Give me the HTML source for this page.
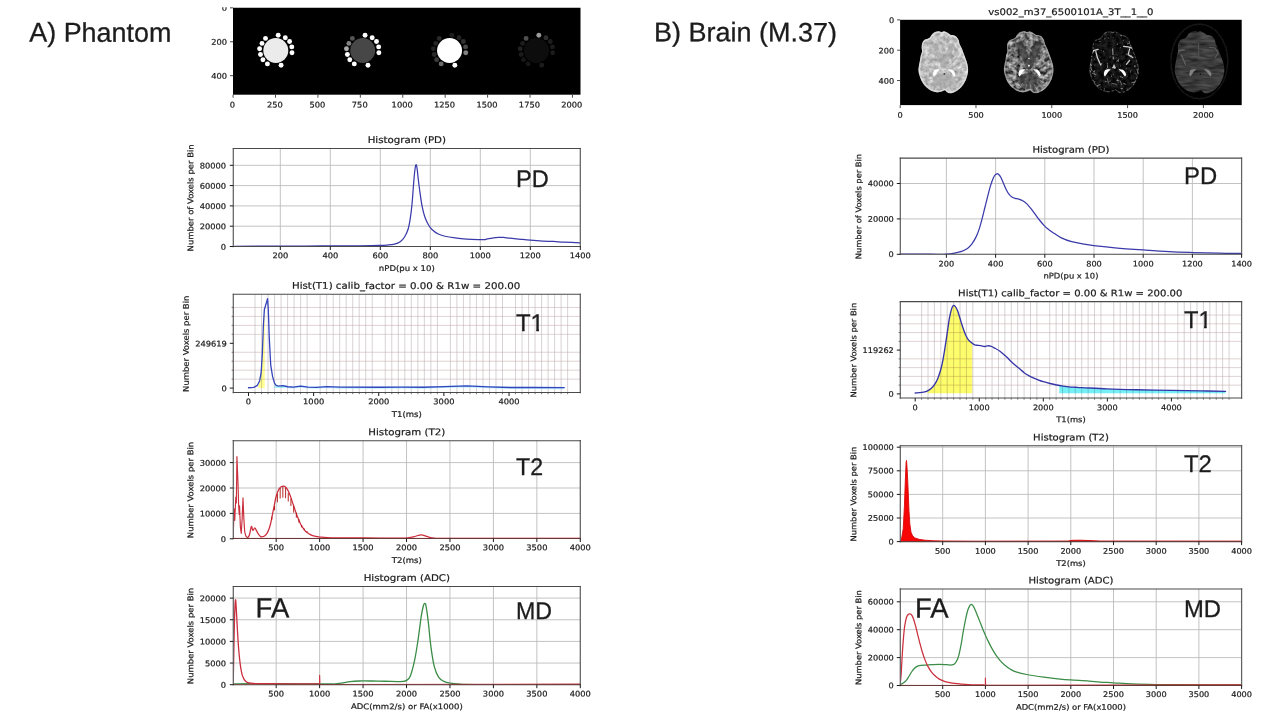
<!DOCTYPE html>
<html lang="en">
<head>
<meta charset="utf-8">
<title>Histograms: Phantom and Brain</title>
<style>
html,body{margin:0;padding:0;background:#fff;}
body{width:1280px;height:720px;overflow:hidden;position:relative;}
svg{position:absolute;left:0;top:0;display:block;}
svg text{font-family:"DejaVu Sans","Liberation Sans",sans-serif;fill:#1c1c1c;stroke:#1c1c1c;stroke-width:0.22px;text-rendering:geometricPrecision;}
svg text.big{font-family:"Liberation Sans",Arial,Helvetica,sans-serif;fill:#1c1c1c;stroke:#1c1c1c;stroke-width:0.3px;}
</style>
</head>
<body>
<svg width="1280" height="720" viewBox="0 0 1280 720">
<rect x="0" y="0" width="1280" height="720" fill="#ffffff"/>
<defs>
<filter id="soft" x="-5%" y="-5%" width="110%" height="110%"><feGaussianBlur stdDeviation="0.45"/></filter>
<filter id="soft2" x="-5%" y="-5%" width="110%" height="110%"><feGaussianBlur stdDeviation="0.7"/></filter>
</defs>
<rect x="233" y="7.75" width="347.5" height="86.95" fill="#000"/>
<g filter="url(#soft)">
<circle cx="275.8" cy="50.5" r="12.5" fill="#ebebeb"/>
<circle cx="278.2" cy="35.3" r="2.45" fill="#ffffff"/>
<circle cx="285.3" cy="37.8" r="2.45" fill="#ffffff"/>
<circle cx="289.6" cy="41.5" r="2.45" fill="#ffffff"/>
<circle cx="291.8" cy="46.9" r="2.45" fill="#ffffff"/>
<circle cx="292" cy="52.7" r="2.45" fill="#ffffff"/>
<circle cx="281.1" cy="65.3" r="2.45" fill="#ffffff"/>
<circle cx="267.4" cy="63.9" r="2.45" fill="#ffffff"/>
<circle cx="262.9" cy="59.8" r="2.45" fill="#ffffff"/>
<circle cx="260.5" cy="54.5" r="2.45" fill="#ffffff"/>
<circle cx="259.6" cy="48.8" r="2.45" fill="#ffffff"/>
<circle cx="262" cy="43.4" r="2.45" fill="#ffffff"/>
<circle cx="265.5" cy="38.4" r="2.45" fill="#ffffff"/>
<circle cx="362.68" cy="50.5" r="12.5" fill="#464646"/>
<circle cx="365.07" cy="35.3" r="2.45" fill="#ffffff"/>
<circle cx="372.18" cy="37.8" r="2.45" fill="#ffffff"/>
<circle cx="376.48" cy="41.5" r="2.45" fill="#ffffff"/>
<circle cx="378.68" cy="46.9" r="2.45" fill="#ffffff"/>
<circle cx="378.88" cy="52.7" r="2.45" fill="#ffffff"/>
<circle cx="367.98" cy="65.3" r="2.45" fill="#ffffff"/>
<circle cx="354.28" cy="63.9" r="2.45" fill="#ffffff"/>
<circle cx="349.78" cy="59.8" r="2.45" fill="#ffffff"/>
<circle cx="347.38" cy="54.5" r="2.45" fill="#ffffff"/>
<circle cx="346.48" cy="48.8" r="2.45" fill="#ababab"/>
<circle cx="348.88" cy="43.4" r="2.45" fill="#808080"/>
<circle cx="352.38" cy="38.4" r="2.45" fill="#555555"/>
<circle cx="449.55" cy="50.5" r="12.5" fill="#ffffff"/>
<circle cx="451.95" cy="35.3" r="2.45" fill="#1e1e1e"/>
<circle cx="459.05" cy="37.8" r="2.45" fill="#242424"/>
<circle cx="463.35" cy="41.5" r="2.45" fill="#303030"/>
<circle cx="465.55" cy="46.9" r="2.45" fill="#484848"/>
<circle cx="465.75" cy="52.7" r="2.45" fill="#808080"/>
<circle cx="454.85" cy="65.3" r="2.45" fill="#ffffff"/>
<circle cx="441.15" cy="63.9" r="2.45" fill="#6a6a6a"/>
<circle cx="436.65" cy="59.8" r="2.45" fill="#3a3a3a"/>
<circle cx="434.25" cy="54.5" r="2.45" fill="#2a2a2a"/>
<circle cx="433.35" cy="48.8" r="2.45" fill="#222222"/>
<circle cx="435.75" cy="43.4" r="2.45" fill="#262626"/>
<circle cx="439.25" cy="38.4" r="2.45" fill="#2a2a2a"/>
<circle cx="536.42" cy="50.5" r="12.5" fill="#0f0f0f"/>
<circle cx="538.82" cy="35.3" r="2.45" fill="#9a9a9a"/>
<circle cx="545.92" cy="37.8" r="2.45" fill="#2e2e2e"/>
<circle cx="550.22" cy="41.5" r="2.45" fill="#1e1e1e"/>
<circle cx="552.42" cy="46.9" r="2.45" fill="#1a1a1a"/>
<circle cx="552.62" cy="52.7" r="2.45" fill="#1a1a1a"/>
<circle cx="541.72" cy="65.3" r="2.45" fill="#1c1c1c"/>
<circle cx="528.02" cy="63.9" r="2.45" fill="#161616"/>
<circle cx="523.52" cy="59.8" r="2.45" fill="#181818"/>
<circle cx="521.12" cy="54.5" r="2.45" fill="#1c1c1c"/>
<circle cx="520.22" cy="48.8" r="2.45" fill="#202020"/>
<circle cx="522.62" cy="43.4" r="2.45" fill="#1e1e1e"/>
<circle cx="526.12" cy="38.4" r="2.45" fill="#505050"/>
</g>
<path d="M233.08 94.7v3M275.5 94.7v3M317.92 94.7v3M360.34 94.7v3M402.76 94.7v3M445.18 94.7v3M487.6 94.7v3M530.02 94.7v3M572.44 94.7v3M233 7.83h-3M233 41.77h-3M233 75.71h-3" stroke="#333" stroke-width="0.9" fill="none"/>
<clipPath id="cropL"><rect x="0" y="7.3" width="640" height="200"/></clipPath>
<text transform="translate(232.48 107.6) rotate(0.03) scale(1.0559 1)" font-size="7.87" text-anchor="middle">0</text>
<text transform="translate(274.9 107.6) rotate(0.03) scale(1.0559 1)" font-size="7.87" text-anchor="middle">250</text>
<text transform="translate(317.32 107.6) rotate(0.03) scale(1.0559 1)" font-size="7.87" text-anchor="middle">500</text>
<text transform="translate(359.74 107.6) rotate(0.03) scale(1.0559 1)" font-size="7.87" text-anchor="middle">750</text>
<text transform="translate(402.16 107.6) rotate(0.03) scale(1.0559 1)" font-size="7.87" text-anchor="middle">1000</text>
<text transform="translate(444.58 107.6) rotate(0.03) scale(1.0559 1)" font-size="7.87" text-anchor="middle">1250</text>
<text transform="translate(487 107.6) rotate(0.03) scale(1.0559 1)" font-size="7.87" text-anchor="middle">1500</text>
<text transform="translate(529.42 107.6) rotate(0.03) scale(1.0559 1)" font-size="7.87" text-anchor="middle">1750</text>
<text transform="translate(571.84 107.6) rotate(0.03) scale(1.0559 1)" font-size="7.87" text-anchor="middle">2000</text>
<g clip-path="url(#cropL)">
<text transform="translate(227 10.83) rotate(0.03) scale(1.0559 1)" font-size="7.87" text-anchor="end">0</text>
<text transform="translate(227 44.77) rotate(0.03) scale(1.0559 1)" font-size="7.87" text-anchor="end">200</text>
<text transform="translate(227 78.71) rotate(0.03) scale(1.0559 1)" font-size="7.87" text-anchor="end">400</text>
</g>
<rect x="900.1" y="19.8" width="341.6" height="85.3" fill="#000"/>
<defs>
<filter id="bt1" x="-10%" y="-10%" width="120%" height="120%" color-interpolation-filters="sRGB">
<feTurbulence type="fractalNoise" baseFrequency="0.24" numOctaves="2" seed="4" result="n"/>
<feColorMatrix in="n" type="matrix" values="0.5 0 0 0 0.5  0.5 0 0 0 0.5  0.5 0 0 0 0.5  0 0 0 0 1" result="g"/>
<feComposite in="g" in2="SourceGraphic" operator="in" result="c"/>
<feGaussianBlur in="c" stdDeviation="0.35"/>
</filter>
<filter id="bt2" x="-10%" y="-10%" width="120%" height="120%" color-interpolation-filters="sRGB">
<feTurbulence type="fractalNoise" baseFrequency="0.24" numOctaves="2" seed="11" result="n"/>
<feColorMatrix in="n" type="matrix" values="1.2 0 0 0 -0.16  1.2 0 0 0 -0.16  1.2 0 0 0 -0.16  0 0 0 0 1" result="g"/>
<feComposite in="g" in2="SourceGraphic" operator="in" result="c"/>
<feGaussianBlur in="c" stdDeviation="0.35"/>
</filter>
<filter id="bt3" x="-10%" y="-10%" width="120%" height="120%" color-interpolation-filters="sRGB">
<feTurbulence type="fractalNoise" baseFrequency="0.25" numOctaves="2" seed="23" result="n"/>
<feColorMatrix in="n" type="matrix" values="0.5 0 0 0 -0.13  0.5 0 0 0 -0.13  0.5 0 0 0 -0.13  0 0 0 0 1" result="g"/>
<feComposite in="g" in2="SourceGraphic" operator="in" result="c"/>
<feGaussianBlur in="c" stdDeviation="0.35"/>
</filter>
<filter id="bt3s" x="-10%" y="-10%" width="120%" height="120%" color-interpolation-filters="sRGB">
<feTurbulence type="fractalNoise" baseFrequency="0.3" numOctaves="3" seed="23" result="n"/>
<feColorMatrix in="n" type="matrix" values="7.0 0 0 0 -4.7  7.0 0 0 0 -4.7  7.0 0 0 0 -4.7  0 0 0 0 1" result="g"/>
<feComposite in="g" in2="SourceGraphic" operator="in" result="c"/>
<feGaussianBlur in="c" stdDeviation="0.45"/>
</filter>
<filter id="bt4" x="-10%" y="-10%" width="120%" height="120%" color-interpolation-filters="sRGB">
<feTurbulence type="fractalNoise" baseFrequency="0.07 0.30" numOctaves="2" seed="31" result="n"/>
<feColorMatrix in="n" type="matrix" values="0.34 0 0 0 0.06  0.34 0 0 0 0.06  0.34 0 0 0 0.06  0 0 0 0 1" result="g"/>
<feComposite in="g" in2="SourceGraphic" operator="in" result="c"/>
<feGaussianBlur in="c" stdDeviation="0.5"/>
</filter>
<filter id="soft3" x="-20%" y="-20%" width="140%" height="140%"><feGaussianBlur stdDeviation="1.6"/></filter>
</defs>
<clipPath id="bc1"><path d="M941.67 32.02 C942.2 31.92 943.79 31.23 944.84 31.39 C945.9 31.55 947.04 32.39 948.01 32.97 C948.98 33.56 949.73 34.51 950.65 34.87 C951.56 35.24 952.53 34.89 953.5 35.19 C954.47 35.49 955.61 35.9 956.46 36.67 C957.3 37.44 958.04 38.61 958.57 39.84 C959.1 41.07 959.1 42.65 959.62 44.06 C960.15 45.47 961.12 46.88 961.73 48.28 C962.35 49.69 962.79 51.1 963.32 52.51 C963.85 53.91 964.37 55.32 964.9 56.73 C965.43 58.14 965.99 59.37 966.49 60.95 C966.98 62.54 967.59 64.47 967.86 66.23 C968.12 67.99 968.21 69.75 968.07 71.51 C967.93 73.27 967.54 75.03 967.01 76.79 C966.49 78.55 965.78 80.4 964.9 82.07 C964.02 83.74 962.97 85.41 961.73 86.82 C960.5 88.23 958.92 89.55 957.51 90.52 C956.1 91.48 954.7 92.19 953.29 92.63 C951.88 93.07 950.21 93.3 949.06 93.16 C947.92 93.01 947.13 92.26 946.43 91.78 C945.72 91.31 945.63 90.34 944.84 90.3 C944.05 90.27 942.91 91.22 941.67 91.57 C940.44 91.92 938.86 92.42 937.45 92.42 C936.04 92.42 934.64 92.06 933.23 91.57 C931.82 91.08 930.41 90.43 929 89.46 C927.6 88.49 926.01 87.17 924.78 85.76 C923.55 84.36 922.49 82.69 921.61 81.01 C920.73 79.34 920.03 77.49 919.5 75.73 C918.97 73.97 918.53 72.22 918.45 70.46 C918.36 68.7 918.71 66.94 918.97 65.18 C919.24 63.42 919.75 61.48 920.03 59.9 C920.31 58.31 920.33 57.08 920.66 55.67 C921 54.27 921.88 52.86 922.04 51.45 C922.19 50.04 921.58 48.64 921.61 47.23 C921.65 45.82 921.81 44.2 922.25 43 C922.69 41.81 923.39 40.75 924.25 40.05 C925.12 39.34 926.45 39.26 927.42 38.78 C928.39 38.31 929.32 37.9 930.06 37.2 C930.8 36.49 931.06 35.42 931.86 34.56 C932.65 33.7 933.7 32.59 934.81 32.02 C935.92 31.46 937.36 31.18 938.51 31.18 C939.65 31.18 941.15 31.88 941.67 32.02Z"/></clipPath>
<path d="M941.67 32.02 C942.2 31.92 943.79 31.23 944.84 31.39 C945.9 31.55 947.04 32.39 948.01 32.97 C948.98 33.56 949.73 34.51 950.65 34.87 C951.56 35.24 952.53 34.89 953.5 35.19 C954.47 35.49 955.61 35.9 956.46 36.67 C957.3 37.44 958.04 38.61 958.57 39.84 C959.1 41.07 959.1 42.65 959.62 44.06 C960.15 45.47 961.12 46.88 961.73 48.28 C962.35 49.69 962.79 51.1 963.32 52.51 C963.85 53.91 964.37 55.32 964.9 56.73 C965.43 58.14 965.99 59.37 966.49 60.95 C966.98 62.54 967.59 64.47 967.86 66.23 C968.12 67.99 968.21 69.75 968.07 71.51 C967.93 73.27 967.54 75.03 967.01 76.79 C966.49 78.55 965.78 80.4 964.9 82.07 C964.02 83.74 962.97 85.41 961.73 86.82 C960.5 88.23 958.92 89.55 957.51 90.52 C956.1 91.48 954.7 92.19 953.29 92.63 C951.88 93.07 950.21 93.3 949.06 93.16 C947.92 93.01 947.13 92.26 946.43 91.78 C945.72 91.31 945.63 90.34 944.84 90.3 C944.05 90.27 942.91 91.22 941.67 91.57 C940.44 91.92 938.86 92.42 937.45 92.42 C936.04 92.42 934.64 92.06 933.23 91.57 C931.82 91.08 930.41 90.43 929 89.46 C927.6 88.49 926.01 87.17 924.78 85.76 C923.55 84.36 922.49 82.69 921.61 81.01 C920.73 79.34 920.03 77.49 919.5 75.73 C918.97 73.97 918.53 72.22 918.45 70.46 C918.36 68.7 918.71 66.94 918.97 65.18 C919.24 63.42 919.75 61.48 920.03 59.9 C920.31 58.31 920.33 57.08 920.66 55.67 C921 54.27 921.88 52.86 922.04 51.45 C922.19 50.04 921.58 48.64 921.61 47.23 C921.65 45.82 921.81 44.2 922.25 43 C922.69 41.81 923.39 40.75 924.25 40.05 C925.12 39.34 926.45 39.26 927.42 38.78 C928.39 38.31 929.32 37.9 930.06 37.2 C930.8 36.49 931.06 35.42 931.86 34.56 C932.65 33.7 933.7 32.59 934.81 32.02 C935.92 31.46 937.36 31.18 938.51 31.18 C939.65 31.18 941.15 31.88 941.67 32.02Z" fill="#bbb" filter="url(#bt1)"/>
<g clip-path="url(#bc1)">
<g filter="url(#soft2)">
<path d="M934.56 44 L943.56 66 L952.56 44" fill="none" stroke="#9c9c9c" stroke-width="5" opacity="0.55" stroke-linejoin="round"/>
<ellipse cx="943.56" cy="80.5" rx="10.5" ry="7.5" fill="#a2a2a2" opacity="0.6"/>
<path d="M955.92 77.21L971.14 81.17M954.07 80.11L967.02 87.64M951.56 82.2L961.41 92.28M948.43 83.64L954.42 95.51M944.91 84.34L946.59 97.07M941.3 84.24L938.52 96.85M937.45 83.18L929.94 94.48M934.2 81.22L922.69 90.12M932.08 78.88L917.95 84.89M930.84 76.16L915.19 78.82M931.06 71.13L915.68 67.61M932.78 68.18L919.51 61.03M935.55 65.8L925.7 55.72M955.61 70.1L970.44 65.31M953.51 67.32L965.77 59.09M950.44 65.18L958.92 54.33" stroke="#8e8e8e" stroke-width="0.7" opacity="0.55" fill="none"/>
<path d="M941.73 32.93 C942.24 32.83 943.78 32.16 944.8 32.32 C945.83 32.47 946.94 33.29 947.88 33.85 C948.81 34.42 949.55 35.34 950.44 35.7 C951.32 36.06 952.26 35.71 953.2 36 C954.14 36.29 955.25 36.69 956.07 37.44 C956.89 38.19 957.6 39.32 958.12 40.51 C958.63 41.71 958.63 43.24 959.14 44.61 C959.65 45.97 960.59 47.34 961.19 48.7 C961.79 50.07 962.21 51.44 962.73 52.8 C963.24 54.17 963.75 55.53 964.26 56.9 C964.77 58.26 965.32 59.46 965.8 60.99 C966.28 62.53 966.87 64.41 967.13 66.11 C967.39 67.82 967.47 69.53 967.33 71.23 C967.2 72.94 966.82 74.65 966.31 76.36 C965.8 78.06 965.12 79.85 964.26 81.48 C963.41 83.1 962.38 84.72 961.19 86.08 C959.99 87.45 958.46 88.73 957.09 89.67 C955.73 90.61 954.36 91.29 953 91.72 C951.63 92.14 950.01 92.37 948.9 92.23 C947.79 92.09 947.02 91.36 946.34 90.9 C945.66 90.44 945.57 89.5 944.8 89.46 C944.03 89.43 942.93 90.35 941.73 90.69 C940.54 91.03 939 91.51 937.63 91.51 C936.27 91.51 934.9 91.17 933.54 90.69 C932.17 90.22 930.81 89.58 929.44 88.65 C928.08 87.71 926.54 86.43 925.34 85.06 C924.15 83.7 923.13 82.07 922.27 80.45 C921.42 78.83 920.74 77.04 920.22 75.33 C919.71 73.62 919.29 71.92 919.2 70.21 C919.11 68.5 919.46 66.8 919.71 65.09 C919.97 63.38 920.46 61.51 920.74 59.97 C921.01 58.43 921.03 57.24 921.35 55.87 C921.67 54.51 922.53 53.14 922.68 51.78 C922.84 50.41 922.24 49.05 922.27 47.68 C922.31 46.31 922.46 44.74 922.89 43.58 C923.31 42.42 924 41.4 924.83 40.72 C925.67 40.03 926.97 39.95 927.9 39.49 C928.84 39.03 929.75 38.63 930.47 37.95 C931.18 37.27 931.44 36.23 932.21 35.39 C932.97 34.55 934 33.48 935.07 32.93 C936.15 32.39 937.55 32.11 938.66 32.11 C939.77 32.11 941.22 32.8 941.73 32.93Z" fill="none" stroke="#e6e6e6" stroke-width="1.6" opacity="0.7"/>
</g></g>
<g filter="url(#soft)" opacity="1.0" fill="#ffffff">
<path d="M933.36 72 C933.54 71.65 933.84 70.37 934.46 69.9 C935.07 69.43 936.17 69.28 937.06 69.2 C937.94 69.12 939.66 69.02 939.76 69.4 C939.86 69.78 938.37 70.62 937.66 71.5 C936.94 72.38 936.04 73.9 935.46 74.7 C934.87 75.5 934.54 76.3 934.16 76.3 C933.77 76.3 933.29 75.42 933.16 74.7 C933.02 73.98 933.32 72.45 933.36 72Z"/>
<path d="M947.66 69.2 C948.27 69.27 950.31 69.22 951.36 69.6 C952.41 69.98 953.31 70.65 953.96 71.5 C954.61 72.35 955.22 73.9 955.26 74.7 C955.29 75.5 954.64 76.38 954.16 76.3 C953.67 76.22 953.01 75 952.36 74.2 C951.71 73.4 951.04 72.33 950.26 71.5 C949.47 70.67 948.09 69.58 947.66 69.2Z"/>
</g>
<circle cx="944.36" cy="73.9" r="0.9" fill="#3a3a3a" filter="url(#soft)"/>
<clipPath id="bc2"><path d="M1027.07 32.02 C1027.6 31.92 1029.19 31.23 1030.24 31.39 C1031.3 31.55 1032.44 32.39 1033.41 32.97 C1034.38 33.56 1035.13 34.51 1036.05 34.87 C1036.96 35.24 1037.93 34.89 1038.9 35.19 C1039.87 35.49 1041.01 35.9 1041.86 36.67 C1042.7 37.44 1043.44 38.61 1043.97 39.84 C1044.5 41.07 1044.5 42.65 1045.02 44.06 C1045.55 45.47 1046.52 46.88 1047.13 48.28 C1047.75 49.69 1048.19 51.1 1048.72 52.51 C1049.25 53.91 1049.77 55.32 1050.3 56.73 C1050.83 58.14 1051.39 59.37 1051.89 60.95 C1052.38 62.54 1052.99 64.47 1053.26 66.23 C1053.52 67.99 1053.61 69.75 1053.47 71.51 C1053.33 73.27 1052.94 75.03 1052.41 76.79 C1051.89 78.55 1051.18 80.4 1050.3 82.07 C1049.42 83.74 1048.37 85.41 1047.13 86.82 C1045.9 88.23 1044.32 89.55 1042.91 90.52 C1041.5 91.48 1040.1 92.19 1038.69 92.63 C1037.28 93.07 1035.61 93.3 1034.46 93.16 C1033.32 93.01 1032.53 92.26 1031.83 91.78 C1031.12 91.31 1031.03 90.34 1030.24 90.3 C1029.45 90.27 1028.31 91.22 1027.07 91.57 C1025.84 91.92 1024.26 92.42 1022.85 92.42 C1021.44 92.42 1020.04 92.06 1018.63 91.57 C1017.22 91.08 1015.81 90.43 1014.4 89.46 C1013 88.49 1011.41 87.17 1010.18 85.76 C1008.95 84.36 1007.89 82.69 1007.01 81.01 C1006.13 79.34 1005.43 77.49 1004.9 75.73 C1004.37 73.97 1003.93 72.22 1003.85 70.46 C1003.76 68.7 1004.11 66.94 1004.37 65.18 C1004.64 63.42 1005.15 61.48 1005.43 59.9 C1005.71 58.31 1005.73 57.08 1006.06 55.67 C1006.4 54.27 1007.28 52.86 1007.44 51.45 C1007.59 50.04 1006.98 48.64 1007.01 47.23 C1007.05 45.82 1007.21 44.2 1007.65 43 C1008.09 41.81 1008.79 40.75 1009.65 40.05 C1010.52 39.34 1011.85 39.26 1012.82 38.78 C1013.79 38.31 1014.72 37.9 1015.46 37.2 C1016.2 36.49 1016.46 35.42 1017.26 34.56 C1018.05 33.7 1019.1 32.59 1020.21 32.02 C1021.32 31.46 1022.76 31.18 1023.91 31.18 C1025.05 31.18 1026.55 31.88 1027.07 32.02Z"/></clipPath>
<path d="M1027.07 32.02 C1027.6 31.92 1029.19 31.23 1030.24 31.39 C1031.3 31.55 1032.44 32.39 1033.41 32.97 C1034.38 33.56 1035.13 34.51 1036.05 34.87 C1036.96 35.24 1037.93 34.89 1038.9 35.19 C1039.87 35.49 1041.01 35.9 1041.86 36.67 C1042.7 37.44 1043.44 38.61 1043.97 39.84 C1044.5 41.07 1044.5 42.65 1045.02 44.06 C1045.55 45.47 1046.52 46.88 1047.13 48.28 C1047.75 49.69 1048.19 51.1 1048.72 52.51 C1049.25 53.91 1049.77 55.32 1050.3 56.73 C1050.83 58.14 1051.39 59.37 1051.89 60.95 C1052.38 62.54 1052.99 64.47 1053.26 66.23 C1053.52 67.99 1053.61 69.75 1053.47 71.51 C1053.33 73.27 1052.94 75.03 1052.41 76.79 C1051.89 78.55 1051.18 80.4 1050.3 82.07 C1049.42 83.74 1048.37 85.41 1047.13 86.82 C1045.9 88.23 1044.32 89.55 1042.91 90.52 C1041.5 91.48 1040.1 92.19 1038.69 92.63 C1037.28 93.07 1035.61 93.3 1034.46 93.16 C1033.32 93.01 1032.53 92.26 1031.83 91.78 C1031.12 91.31 1031.03 90.34 1030.24 90.3 C1029.45 90.27 1028.31 91.22 1027.07 91.57 C1025.84 91.92 1024.26 92.42 1022.85 92.42 C1021.44 92.42 1020.04 92.06 1018.63 91.57 C1017.22 91.08 1015.81 90.43 1014.4 89.46 C1013 88.49 1011.41 87.17 1010.18 85.76 C1008.95 84.36 1007.89 82.69 1007.01 81.01 C1006.13 79.34 1005.43 77.49 1004.9 75.73 C1004.37 73.97 1003.93 72.22 1003.85 70.46 C1003.76 68.7 1004.11 66.94 1004.37 65.18 C1004.64 63.42 1005.15 61.48 1005.43 59.9 C1005.71 58.31 1005.73 57.08 1006.06 55.67 C1006.4 54.27 1007.28 52.86 1007.44 51.45 C1007.59 50.04 1006.98 48.64 1007.01 47.23 C1007.05 45.82 1007.21 44.2 1007.65 43 C1008.09 41.81 1008.79 40.75 1009.65 40.05 C1010.52 39.34 1011.85 39.26 1012.82 38.78 C1013.79 38.31 1014.72 37.9 1015.46 37.2 C1016.2 36.49 1016.46 35.42 1017.26 34.56 C1018.05 33.7 1019.1 32.59 1020.21 32.02 C1021.32 31.46 1022.76 31.18 1023.91 31.18 C1025.05 31.18 1026.55 31.88 1027.07 32.02Z" fill="#777" filter="url(#bt2)"/>
<g clip-path="url(#bc2)">
<g filter="url(#soft2)">
<path d="M1018.96 42 L1028.96 66 L1038.96 42" fill="none" stroke="#3a3a3a" stroke-width="7" opacity="0.75" stroke-linejoin="round"/>
<ellipse cx="1028.96" cy="81" rx="11" ry="8" fill="#3c3c3c" opacity="0.7"/>
<path d="M1041.32 77.21L1056.54 81.17M1039.47 80.11L1052.42 87.64M1036.96 82.2L1046.81 92.28M1033.83 83.64L1039.82 95.51M1030.31 84.34L1031.99 97.07M1026.7 84.24L1023.92 96.85M1022.85 83.18L1015.34 94.48M1019.6 81.22L1008.09 90.12M1017.48 78.88L1003.35 84.89M1016.24 76.16L1000.59 78.82M1016.46 71.13L1001.08 67.61M1018.18 68.18L1004.91 61.03M1020.95 65.8L1011.1 55.72M1041.01 70.1L1055.84 65.31M1038.91 67.32L1051.17 59.09M1035.84 65.18L1044.32 54.33" stroke="#d0d0d0" stroke-width="0.7" opacity="0.55" fill="none"/>
<path d="M1027.12 32.78 C1027.64 32.68 1029.18 32.01 1030.21 32.16 C1031.24 32.32 1032.35 33.14 1033.3 33.71 C1034.24 34.27 1034.98 35.2 1035.87 35.56 C1036.76 35.92 1037.71 35.58 1038.65 35.87 C1039.59 36.16 1040.71 36.56 1041.53 37.31 C1042.36 38.07 1043.08 39.2 1043.59 40.4 C1044.11 41.6 1044.11 43.14 1044.62 44.52 C1045.14 45.89 1046.08 47.26 1046.68 48.63 C1047.28 50.01 1047.71 51.38 1048.22 52.75 C1048.74 54.12 1049.25 55.5 1049.77 56.87 C1050.28 58.24 1050.83 59.44 1051.31 60.99 C1051.79 62.53 1052.39 64.42 1052.65 66.13 C1052.91 67.85 1052.99 69.57 1052.86 71.28 C1052.72 73 1052.34 74.71 1051.83 76.43 C1051.31 78.14 1050.63 79.95 1049.77 81.58 C1048.91 83.21 1047.88 84.83 1046.68 86.21 C1045.48 87.58 1043.93 88.87 1042.56 89.81 C1041.19 90.75 1039.82 91.44 1038.44 91.87 C1037.07 92.3 1035.44 92.52 1034.33 92.38 C1033.21 92.25 1032.44 91.51 1031.75 91.05 C1031.07 90.58 1030.98 89.64 1030.21 89.6 C1029.44 89.57 1028.32 90.5 1027.12 90.84 C1025.92 91.18 1024.38 91.66 1023 91.66 C1021.63 91.66 1020.26 91.32 1018.89 90.84 C1017.51 90.36 1016.14 89.72 1014.77 88.78 C1013.4 87.84 1011.85 86.55 1010.65 85.18 C1009.45 83.81 1008.42 82.18 1007.56 80.55 C1006.7 78.92 1006.02 77.11 1005.5 75.4 C1004.99 73.68 1004.56 71.97 1004.47 70.25 C1004.39 68.54 1004.73 66.82 1004.99 65.1 C1005.25 63.39 1005.74 61.5 1006.02 59.96 C1006.29 58.41 1006.31 57.21 1006.64 55.84 C1006.96 54.47 1007.82 53.09 1007.97 51.72 C1008.13 50.35 1007.53 48.98 1007.56 47.6 C1007.6 46.23 1007.75 44.65 1008.18 43.49 C1008.61 42.32 1009.3 41.29 1010.14 40.6 C1010.98 39.92 1012.28 39.83 1013.22 39.37 C1014.17 38.91 1015.08 38.51 1015.8 37.83 C1016.52 37.14 1016.78 36.09 1017.55 35.25 C1018.32 34.41 1019.35 33.33 1020.43 32.78 C1021.51 32.23 1022.92 31.96 1024.03 31.96 C1025.15 31.96 1026.61 32.64 1027.12 32.78Z" fill="none" stroke="#a8a8a8" stroke-width="1.3" opacity="0.8"/>
</g></g>
<g filter="url(#soft)" opacity="1.0" fill="#ffffff">
<path d="M1018.76 72 C1018.94 71.65 1019.24 70.37 1019.86 69.9 C1020.47 69.43 1021.57 69.28 1022.46 69.2 C1023.34 69.12 1025.06 69.02 1025.16 69.4 C1025.26 69.78 1023.77 70.62 1023.06 71.5 C1022.34 72.38 1021.44 73.9 1020.86 74.7 C1020.27 75.5 1019.94 76.3 1019.56 76.3 C1019.17 76.3 1018.69 75.42 1018.56 74.7 C1018.42 73.98 1018.72 72.45 1018.76 72Z"/>
<path d="M1033.06 69.2 C1033.67 69.27 1035.71 69.22 1036.76 69.6 C1037.81 69.98 1038.71 70.65 1039.36 71.5 C1040.01 72.35 1040.62 73.9 1040.66 74.7 C1040.69 75.5 1040.04 76.38 1039.56 76.3 C1039.07 76.22 1038.41 75 1037.76 74.2 C1037.11 73.4 1036.44 72.33 1035.66 71.5 C1034.87 70.67 1033.49 69.58 1033.06 69.2Z"/>
</g>
<circle cx="1028.96" cy="65.8" r="1.0" fill="#eee" filter="url(#soft)"/><circle cx="1028.96" cy="58.5" r="0.8" fill="#e8e8e8" filter="url(#soft)"/>
<clipPath id="bc3"><path d="M1112.47 32.02 C1113 31.92 1114.59 31.23 1115.64 31.39 C1116.7 31.55 1117.84 32.39 1118.81 32.97 C1119.78 33.56 1120.53 34.51 1121.45 34.87 C1122.36 35.24 1123.33 34.89 1124.3 35.19 C1125.27 35.49 1126.41 35.9 1127.26 36.67 C1128.1 37.44 1128.84 38.61 1129.37 39.84 C1129.9 41.07 1129.9 42.65 1130.42 44.06 C1130.95 45.47 1131.92 46.88 1132.53 48.28 C1133.15 49.69 1133.59 51.1 1134.12 52.51 C1134.65 53.91 1135.17 55.32 1135.7 56.73 C1136.23 58.14 1136.79 59.37 1137.29 60.95 C1137.78 62.54 1138.39 64.47 1138.66 66.23 C1138.92 67.99 1139.01 69.75 1138.87 71.51 C1138.73 73.27 1138.34 75.03 1137.81 76.79 C1137.29 78.55 1136.58 80.4 1135.7 82.07 C1134.82 83.74 1133.77 85.41 1132.53 86.82 C1131.3 88.23 1129.72 89.55 1128.31 90.52 C1126.9 91.48 1125.5 92.19 1124.09 92.63 C1122.68 93.07 1121.01 93.3 1119.86 93.16 C1118.72 93.01 1117.93 92.26 1117.23 91.78 C1116.52 91.31 1116.43 90.34 1115.64 90.3 C1114.85 90.27 1113.71 91.22 1112.47 91.57 C1111.24 91.92 1109.66 92.42 1108.25 92.42 C1106.84 92.42 1105.44 92.06 1104.03 91.57 C1102.62 91.08 1101.21 90.43 1099.8 89.46 C1098.4 88.49 1096.81 87.17 1095.58 85.76 C1094.35 84.36 1093.29 82.69 1092.41 81.01 C1091.53 79.34 1090.83 77.49 1090.3 75.73 C1089.77 73.97 1089.33 72.22 1089.25 70.46 C1089.16 68.7 1089.51 66.94 1089.77 65.18 C1090.04 63.42 1090.55 61.48 1090.83 59.9 C1091.11 58.31 1091.13 57.08 1091.46 55.67 C1091.8 54.27 1092.68 52.86 1092.84 51.45 C1092.99 50.04 1092.38 48.64 1092.41 47.23 C1092.45 45.82 1092.61 44.2 1093.05 43 C1093.49 41.81 1094.19 40.75 1095.05 40.05 C1095.92 39.34 1097.25 39.26 1098.22 38.78 C1099.19 38.31 1100.12 37.9 1100.86 37.2 C1101.6 36.49 1101.86 35.42 1102.66 34.56 C1103.45 33.7 1104.5 32.59 1105.61 32.02 C1106.72 31.46 1108.16 31.18 1109.31 31.18 C1110.45 31.18 1111.95 31.88 1112.47 32.02Z"/></clipPath>
<path d="M1112.47 32.02 C1113 31.92 1114.59 31.23 1115.64 31.39 C1116.7 31.55 1117.84 32.39 1118.81 32.97 C1119.78 33.56 1120.53 34.51 1121.45 34.87 C1122.36 35.24 1123.33 34.89 1124.3 35.19 C1125.27 35.49 1126.41 35.9 1127.26 36.67 C1128.1 37.44 1128.84 38.61 1129.37 39.84 C1129.9 41.07 1129.9 42.65 1130.42 44.06 C1130.95 45.47 1131.92 46.88 1132.53 48.28 C1133.15 49.69 1133.59 51.1 1134.12 52.51 C1134.65 53.91 1135.17 55.32 1135.7 56.73 C1136.23 58.14 1136.79 59.37 1137.29 60.95 C1137.78 62.54 1138.39 64.47 1138.66 66.23 C1138.92 67.99 1139.01 69.75 1138.87 71.51 C1138.73 73.27 1138.34 75.03 1137.81 76.79 C1137.29 78.55 1136.58 80.4 1135.7 82.07 C1134.82 83.74 1133.77 85.41 1132.53 86.82 C1131.3 88.23 1129.72 89.55 1128.31 90.52 C1126.9 91.48 1125.5 92.19 1124.09 92.63 C1122.68 93.07 1121.01 93.3 1119.86 93.16 C1118.72 93.01 1117.93 92.26 1117.23 91.78 C1116.52 91.31 1116.43 90.34 1115.64 90.3 C1114.85 90.27 1113.71 91.22 1112.47 91.57 C1111.24 91.92 1109.66 92.42 1108.25 92.42 C1106.84 92.42 1105.44 92.06 1104.03 91.57 C1102.62 91.08 1101.21 90.43 1099.8 89.46 C1098.4 88.49 1096.81 87.17 1095.58 85.76 C1094.35 84.36 1093.29 82.69 1092.41 81.01 C1091.53 79.34 1090.83 77.49 1090.3 75.73 C1089.77 73.97 1089.33 72.22 1089.25 70.46 C1089.16 68.7 1089.51 66.94 1089.77 65.18 C1090.04 63.42 1090.55 61.48 1090.83 59.9 C1091.11 58.31 1091.13 57.08 1091.46 55.67 C1091.8 54.27 1092.68 52.86 1092.84 51.45 C1092.99 50.04 1092.38 48.64 1092.41 47.23 C1092.45 45.82 1092.61 44.2 1093.05 43 C1093.49 41.81 1094.19 40.75 1095.05 40.05 C1095.92 39.34 1097.25 39.26 1098.22 38.78 C1099.19 38.31 1100.12 37.9 1100.86 37.2 C1101.6 36.49 1101.86 35.42 1102.66 34.56 C1103.45 33.7 1104.5 32.59 1105.61 32.02 C1106.72 31.46 1108.16 31.18 1109.31 31.18 C1110.45 31.18 1111.95 31.88 1112.47 32.02Z" fill="#242424" filter="url(#soft2)"/>
<path d="M1112.47 32.02 C1113 31.92 1114.59 31.23 1115.64 31.39 C1116.7 31.55 1117.84 32.39 1118.81 32.97 C1119.78 33.56 1120.53 34.51 1121.45 34.87 C1122.36 35.24 1123.33 34.89 1124.3 35.19 C1125.27 35.49 1126.41 35.9 1127.26 36.67 C1128.1 37.44 1128.84 38.61 1129.37 39.84 C1129.9 41.07 1129.9 42.65 1130.42 44.06 C1130.95 45.47 1131.92 46.88 1132.53 48.28 C1133.15 49.69 1133.59 51.1 1134.12 52.51 C1134.65 53.91 1135.17 55.32 1135.7 56.73 C1136.23 58.14 1136.79 59.37 1137.29 60.95 C1137.78 62.54 1138.39 64.47 1138.66 66.23 C1138.92 67.99 1139.01 69.75 1138.87 71.51 C1138.73 73.27 1138.34 75.03 1137.81 76.79 C1137.29 78.55 1136.58 80.4 1135.7 82.07 C1134.82 83.74 1133.77 85.41 1132.53 86.82 C1131.3 88.23 1129.72 89.55 1128.31 90.52 C1126.9 91.48 1125.5 92.19 1124.09 92.63 C1122.68 93.07 1121.01 93.3 1119.86 93.16 C1118.72 93.01 1117.93 92.26 1117.23 91.78 C1116.52 91.31 1116.43 90.34 1115.64 90.3 C1114.85 90.27 1113.71 91.22 1112.47 91.57 C1111.24 91.92 1109.66 92.42 1108.25 92.42 C1106.84 92.42 1105.44 92.06 1104.03 91.57 C1102.62 91.08 1101.21 90.43 1099.8 89.46 C1098.4 88.49 1096.81 87.17 1095.58 85.76 C1094.35 84.36 1093.29 82.69 1092.41 81.01 C1091.53 79.34 1090.83 77.49 1090.3 75.73 C1089.77 73.97 1089.33 72.22 1089.25 70.46 C1089.16 68.7 1089.51 66.94 1089.77 65.18 C1090.04 63.42 1090.55 61.48 1090.83 59.9 C1091.11 58.31 1091.13 57.08 1091.46 55.67 C1091.8 54.27 1092.68 52.86 1092.84 51.45 C1092.99 50.04 1092.38 48.64 1092.41 47.23 C1092.45 45.82 1092.61 44.2 1093.05 43 C1093.49 41.81 1094.19 40.75 1095.05 40.05 C1095.92 39.34 1097.25 39.26 1098.22 38.78 C1099.19 38.31 1100.12 37.9 1100.86 37.2 C1101.6 36.49 1101.86 35.42 1102.66 34.56 C1103.45 33.7 1104.5 32.59 1105.61 32.02 C1106.72 31.46 1108.16 31.18 1109.31 31.18 C1110.45 31.18 1111.95 31.88 1112.47 32.02Z" fill="#fff" filter="url(#bt3)" opacity="0.9"/>
<path d="M1112.47 32.02 C1113 31.92 1114.59 31.23 1115.64 31.39 C1116.7 31.55 1117.84 32.39 1118.81 32.97 C1119.78 33.56 1120.53 34.51 1121.45 34.87 C1122.36 35.24 1123.33 34.89 1124.3 35.19 C1125.27 35.49 1126.41 35.9 1127.26 36.67 C1128.1 37.44 1128.84 38.61 1129.37 39.84 C1129.9 41.07 1129.9 42.65 1130.42 44.06 C1130.95 45.47 1131.92 46.88 1132.53 48.28 C1133.15 49.69 1133.59 51.1 1134.12 52.51 C1134.65 53.91 1135.17 55.32 1135.7 56.73 C1136.23 58.14 1136.79 59.37 1137.29 60.95 C1137.78 62.54 1138.39 64.47 1138.66 66.23 C1138.92 67.99 1139.01 69.75 1138.87 71.51 C1138.73 73.27 1138.34 75.03 1137.81 76.79 C1137.29 78.55 1136.58 80.4 1135.7 82.07 C1134.82 83.74 1133.77 85.41 1132.53 86.82 C1131.3 88.23 1129.72 89.55 1128.31 90.52 C1126.9 91.48 1125.5 92.19 1124.09 92.63 C1122.68 93.07 1121.01 93.3 1119.86 93.16 C1118.72 93.01 1117.93 92.26 1117.23 91.78 C1116.52 91.31 1116.43 90.34 1115.64 90.3 C1114.85 90.27 1113.71 91.22 1112.47 91.57 C1111.24 91.92 1109.66 92.42 1108.25 92.42 C1106.84 92.42 1105.44 92.06 1104.03 91.57 C1102.62 91.08 1101.21 90.43 1099.8 89.46 C1098.4 88.49 1096.81 87.17 1095.58 85.76 C1094.35 84.36 1093.29 82.69 1092.41 81.01 C1091.53 79.34 1090.83 77.49 1090.3 75.73 C1089.77 73.97 1089.33 72.22 1089.25 70.46 C1089.16 68.7 1089.51 66.94 1089.77 65.18 C1090.04 63.42 1090.55 61.48 1090.83 59.9 C1091.11 58.31 1091.13 57.08 1091.46 55.67 C1091.8 54.27 1092.68 52.86 1092.84 51.45 C1092.99 50.04 1092.38 48.64 1092.41 47.23 C1092.45 45.82 1092.61 44.2 1093.05 43 C1093.49 41.81 1094.19 40.75 1095.05 40.05 C1095.92 39.34 1097.25 39.26 1098.22 38.78 C1099.19 38.31 1100.12 37.9 1100.86 37.2 C1101.6 36.49 1101.86 35.42 1102.66 34.56 C1103.45 33.7 1104.5 32.59 1105.61 32.02 C1106.72 31.46 1108.16 31.18 1109.31 31.18 C1110.45 31.18 1111.95 31.88 1112.47 32.02Z" fill="#fff" filter="url(#bt3s)" opacity="0.4"/>
<g clip-path="url(#bc3)"><g filter="url(#soft2)" fill="none" stroke-linecap="round" stroke-linejoin="round" opacity="0.9">
<path d="M1112.52 32.78 C1113.04 32.68 1114.58 32.01 1115.61 32.16 C1116.64 32.32 1117.75 33.14 1118.7 33.71 C1119.64 34.27 1120.38 35.2 1121.27 35.56 C1122.16 35.92 1123.11 35.58 1124.05 35.87 C1124.99 36.16 1126.11 36.56 1126.93 37.31 C1127.76 38.07 1128.48 39.2 1128.99 40.4 C1129.51 41.6 1129.51 43.14 1130.02 44.52 C1130.54 45.89 1131.48 47.26 1132.08 48.63 C1132.68 50.01 1133.11 51.38 1133.62 52.75 C1134.14 54.12 1134.65 55.5 1135.17 56.87 C1135.68 58.24 1136.23 59.44 1136.71 60.99 C1137.19 62.53 1137.79 64.42 1138.05 66.13 C1138.31 67.85 1138.39 69.57 1138.26 71.28 C1138.12 73 1137.74 74.71 1137.23 76.43 C1136.71 78.14 1136.03 79.95 1135.17 81.58 C1134.31 83.21 1133.28 84.83 1132.08 86.21 C1130.88 87.58 1129.33 88.87 1127.96 89.81 C1126.59 90.75 1125.22 91.44 1123.84 91.87 C1122.47 92.3 1120.84 92.52 1119.73 92.38 C1118.61 92.25 1117.84 91.51 1117.15 91.05 C1116.47 90.58 1116.38 89.64 1115.61 89.6 C1114.84 89.57 1113.72 90.5 1112.52 90.84 C1111.32 91.18 1109.78 91.66 1108.4 91.66 C1107.03 91.66 1105.66 91.32 1104.29 90.84 C1102.91 90.36 1101.54 89.72 1100.17 88.78 C1098.8 87.84 1097.25 86.55 1096.05 85.18 C1094.85 83.81 1093.82 82.18 1092.96 80.55 C1092.1 78.92 1091.42 77.11 1090.9 75.4 C1090.39 73.68 1089.96 71.97 1089.87 70.25 C1089.79 68.54 1090.13 66.82 1090.39 65.1 C1090.65 63.39 1091.14 61.5 1091.42 59.96 C1091.69 58.41 1091.71 57.21 1092.04 55.84 C1092.36 54.47 1093.22 53.09 1093.37 51.72 C1093.53 50.35 1092.93 48.98 1092.96 47.6 C1093 46.23 1093.15 44.65 1093.58 43.49 C1094.01 42.32 1094.7 41.29 1095.54 40.6 C1096.38 39.92 1097.68 39.83 1098.62 39.37 C1099.57 38.91 1100.48 38.51 1101.2 37.83 C1101.92 37.14 1102.18 36.09 1102.95 35.25 C1103.72 34.41 1104.75 33.33 1105.83 32.78 C1106.91 32.23 1108.32 31.96 1109.43 31.96 C1110.55 31.96 1112.01 32.64 1112.52 32.78Z" stroke="#9a9a9a" stroke-width="0.9" stroke-dasharray="1.5 2.6 0.8 3.4 2.2 1.8" opacity="0.75"/>
<path d="M1091.4 53.78 L1093.52 50.61 L1098.16 49.34 M1095.84 51.67 L1097.42 57.79 L1100.7 64.97" stroke="#e8e8e8" stroke-width="1.25"/>
<path d="M1123.51 46.39 L1128.05 46.81 L1131.95 48.08 M1129.63 48.92 L1128.15 54.62 L1132.8 57.58 M1129.63 60.43 L1126.46 64.34" stroke="#e0e0e0" stroke-width="1.2"/>
<path d="M1112.73 48.82 L1112.95 54.62 M1113.16 56.95 L1113.37 59.06" stroke="#bdbdbd" stroke-width="0.9"/>
<path d="M1114 63.92 L1116.11 68.14 L1111.89 68.14 Z" fill="#d6d6d6" stroke="none"/>
<path d="M1090.56 66.77 L1091.83 70.46 M1092.67 73.63 L1095.84 74.48 M1096.9 85.77 L1100.06 84.72 M1131.74 82.61 L1135.44 81.87 M1137.02 69.41 L1138.29 73.63" stroke="#a8a8a8" stroke-width="0.8"/>
<path d="M1111.68 83.13 L1116.43 84.4 M1120.13 81.02 L1121.71 84.72 M1107.46 78.91 L1108.3 83.13" stroke="#8c8c8c" stroke-width="0.8"/>
</g></g>
<g filter="url(#soft)" opacity="1.0" fill="#ffffff">
<path d="M1104.16 72 C1104.34 71.65 1104.64 70.37 1105.26 69.9 C1105.87 69.43 1106.97 69.28 1107.86 69.2 C1108.74 69.12 1110.46 69.02 1110.56 69.4 C1110.66 69.78 1109.17 70.62 1108.46 71.5 C1107.74 72.38 1106.84 73.9 1106.26 74.7 C1105.67 75.5 1105.34 76.3 1104.96 76.3 C1104.57 76.3 1104.09 75.42 1103.96 74.7 C1103.82 73.98 1104.12 72.45 1104.16 72Z"/>
<path d="M1118.46 69.2 C1119.07 69.27 1121.11 69.22 1122.16 69.6 C1123.21 69.98 1124.11 70.65 1124.76 71.5 C1125.41 72.35 1126.02 73.9 1126.06 74.7 C1126.09 75.5 1125.44 76.38 1124.96 76.3 C1124.47 76.22 1123.81 75 1123.16 74.2 C1122.51 73.4 1121.84 72.33 1121.06 71.5 C1120.27 70.67 1118.89 69.58 1118.46 69.2Z"/>
</g>
<ellipse cx="1199.36" cy="61.4" rx="28.4" ry="37.2" fill="none" stroke="#121212" stroke-width="1.8" filter="url(#soft2)"/>
<clipPath id="bc4"><path d="M1197.87 32.02 C1198.4 31.92 1199.99 31.23 1201.04 31.39 C1202.1 31.55 1203.24 32.39 1204.21 32.97 C1205.18 33.56 1205.93 34.51 1206.85 34.87 C1207.76 35.24 1208.73 34.89 1209.7 35.19 C1210.67 35.49 1211.81 35.9 1212.66 36.67 C1213.5 37.44 1214.24 38.61 1214.77 39.84 C1215.3 41.07 1215.3 42.65 1215.82 44.06 C1216.35 45.47 1217.32 46.88 1217.93 48.28 C1218.55 49.69 1218.99 51.1 1219.52 52.51 C1220.05 53.91 1220.57 55.32 1221.1 56.73 C1221.63 58.14 1222.19 59.37 1222.69 60.95 C1223.18 62.54 1223.79 64.47 1224.06 66.23 C1224.32 67.99 1224.41 69.75 1224.27 71.51 C1224.13 73.27 1223.74 75.03 1223.21 76.79 C1222.69 78.55 1221.98 80.4 1221.1 82.07 C1220.22 83.74 1219.17 85.41 1217.93 86.82 C1216.7 88.23 1215.12 89.55 1213.71 90.52 C1212.3 91.48 1210.9 92.19 1209.49 92.63 C1208.08 93.07 1206.41 93.3 1205.26 93.16 C1204.12 93.01 1203.33 92.26 1202.63 91.78 C1201.92 91.31 1201.83 90.34 1201.04 90.3 C1200.25 90.27 1199.11 91.22 1197.87 91.57 C1196.64 91.92 1195.06 92.42 1193.65 92.42 C1192.24 92.42 1190.84 92.06 1189.43 91.57 C1188.02 91.08 1186.61 90.43 1185.2 89.46 C1183.8 88.49 1182.21 87.17 1180.98 85.76 C1179.75 84.36 1178.69 82.69 1177.81 81.01 C1176.93 79.34 1176.23 77.49 1175.7 75.73 C1175.17 73.97 1174.73 72.22 1174.65 70.46 C1174.56 68.7 1174.91 66.94 1175.17 65.18 C1175.44 63.42 1175.95 61.48 1176.23 59.9 C1176.51 58.31 1176.53 57.08 1176.86 55.67 C1177.2 54.27 1178.08 52.86 1178.24 51.45 C1178.39 50.04 1177.78 48.64 1177.81 47.23 C1177.85 45.82 1178.01 44.2 1178.45 43 C1178.89 41.81 1179.59 40.75 1180.45 40.05 C1181.32 39.34 1182.65 39.26 1183.62 38.78 C1184.59 38.31 1185.52 37.9 1186.26 37.2 C1187 36.49 1187.26 35.42 1188.06 34.56 C1188.85 33.7 1189.9 32.59 1191.01 32.02 C1192.12 31.46 1193.56 31.18 1194.71 31.18 C1195.85 31.18 1197.35 31.88 1197.87 32.02Z"/></clipPath>
<path d="M1197.87 32.02 C1198.4 31.92 1199.99 31.23 1201.04 31.39 C1202.1 31.55 1203.24 32.39 1204.21 32.97 C1205.18 33.56 1205.93 34.51 1206.85 34.87 C1207.76 35.24 1208.73 34.89 1209.7 35.19 C1210.67 35.49 1211.81 35.9 1212.66 36.67 C1213.5 37.44 1214.24 38.61 1214.77 39.84 C1215.3 41.07 1215.3 42.65 1215.82 44.06 C1216.35 45.47 1217.32 46.88 1217.93 48.28 C1218.55 49.69 1218.99 51.1 1219.52 52.51 C1220.05 53.91 1220.57 55.32 1221.1 56.73 C1221.63 58.14 1222.19 59.37 1222.69 60.95 C1223.18 62.54 1223.79 64.47 1224.06 66.23 C1224.32 67.99 1224.41 69.75 1224.27 71.51 C1224.13 73.27 1223.74 75.03 1223.21 76.79 C1222.69 78.55 1221.98 80.4 1221.1 82.07 C1220.22 83.74 1219.17 85.41 1217.93 86.82 C1216.7 88.23 1215.12 89.55 1213.71 90.52 C1212.3 91.48 1210.9 92.19 1209.49 92.63 C1208.08 93.07 1206.41 93.3 1205.26 93.16 C1204.12 93.01 1203.33 92.26 1202.63 91.78 C1201.92 91.31 1201.83 90.34 1201.04 90.3 C1200.25 90.27 1199.11 91.22 1197.87 91.57 C1196.64 91.92 1195.06 92.42 1193.65 92.42 C1192.24 92.42 1190.84 92.06 1189.43 91.57 C1188.02 91.08 1186.61 90.43 1185.2 89.46 C1183.8 88.49 1182.21 87.17 1180.98 85.76 C1179.75 84.36 1178.69 82.69 1177.81 81.01 C1176.93 79.34 1176.23 77.49 1175.7 75.73 C1175.17 73.97 1174.73 72.22 1174.65 70.46 C1174.56 68.7 1174.91 66.94 1175.17 65.18 C1175.44 63.42 1175.95 61.48 1176.23 59.9 C1176.51 58.31 1176.53 57.08 1176.86 55.67 C1177.2 54.27 1178.08 52.86 1178.24 51.45 C1178.39 50.04 1177.78 48.64 1177.81 47.23 C1177.85 45.82 1178.01 44.2 1178.45 43 C1178.89 41.81 1179.59 40.75 1180.45 40.05 C1181.32 39.34 1182.65 39.26 1183.62 38.78 C1184.59 38.31 1185.52 37.9 1186.26 37.2 C1187 36.49 1187.26 35.42 1188.06 34.56 C1188.85 33.7 1189.9 32.59 1191.01 32.02 C1192.12 31.46 1193.56 31.18 1194.71 31.18 C1195.85 31.18 1197.35 31.88 1197.87 32.02Z" fill="#333" filter="url(#bt4)"/>
<g clip-path="url(#bc4)"><g filter="url(#soft2)" fill="none" stroke-linecap="round" opacity="0.85">
<path d="M1176.67 53.84 L1179 50.57 L1184.25 49.75 M1181.34 55.01 L1185.42 64.34" stroke="#6a6a6a" stroke-width="1.3"/>
<path d="M1209.34 47.07 L1215.18 48 L1218.09 53.26 L1215.18 57.34" stroke="#606060" stroke-width="1.3"/>
<path d="M1198.61 43.34 L1198.84 58.51" stroke="#5a5a5a" stroke-width="1.0"/>
</g></g>
<g filter="url(#soft2)" opacity="0.9" fill="#8a8a8a">
<path d="M1189.56 72 C1189.74 71.65 1190.04 70.37 1190.66 69.9 C1191.27 69.43 1192.37 69.28 1193.26 69.2 C1194.14 69.12 1195.86 69.02 1195.96 69.4 C1196.06 69.78 1194.57 70.62 1193.86 71.5 C1193.14 72.38 1192.24 73.9 1191.66 74.7 C1191.07 75.5 1190.74 76.3 1190.36 76.3 C1189.97 76.3 1189.49 75.42 1189.36 74.7 C1189.22 73.98 1189.52 72.45 1189.56 72Z"/>
<path d="M1203.86 69.2 C1204.47 69.27 1206.51 69.22 1207.56 69.6 C1208.61 69.98 1209.51 70.65 1210.16 71.5 C1210.81 72.35 1211.42 73.9 1211.46 74.7 C1211.49 75.5 1210.84 76.38 1210.36 76.3 C1209.87 76.22 1209.21 75 1208.56 74.2 C1207.91 73.4 1207.24 72.33 1206.46 71.5 C1205.67 70.67 1204.29 69.58 1203.86 69.2Z"/>
</g>
<circle cx="1200.36" cy="74.2" r="0.8" fill="#111" filter="url(#soft)"/>
<path d="M900.18 105.1v3M975.98 105.1v3M1051.78 105.1v3M1127.58 105.1v3M1203.38 105.1v3M900.1 19.88h-3M900.1 50.2h-3M900.1 80.52h-3" stroke="#333" stroke-width="0.9" fill="none"/>
<text transform="translate(900.18 117.8) rotate(0.03) scale(1.0559 1)" font-size="7.74" text-anchor="middle">0</text>
<text transform="translate(975.98 117.8) rotate(0.03) scale(1.0559 1)" font-size="7.74" text-anchor="middle">500</text>
<text transform="translate(1051.78 117.8) rotate(0.03) scale(1.0559 1)" font-size="7.74" text-anchor="middle">1000</text>
<text transform="translate(1127.58 117.8) rotate(0.03) scale(1.0559 1)" font-size="7.74" text-anchor="middle">1500</text>
<text transform="translate(1203.38 117.8) rotate(0.03) scale(1.0559 1)" font-size="7.74" text-anchor="middle">2000</text>
<text transform="translate(894.1 23.08) rotate(0.03) scale(1.0559 1)" font-size="7.74" text-anchor="end">0</text>
<text transform="translate(894.1 53.4) rotate(0.03) scale(1.0559 1)" font-size="7.74" text-anchor="end">200</text>
<text transform="translate(894.1 83.72) rotate(0.03) scale(1.0559 1)" font-size="7.74" text-anchor="end">400</text>
<text transform="translate(1070.9 15) rotate(0.03) scale(1.1077 1)" font-size="9.08" text-anchor="middle">vs002_m37_6500101A_3T__1__0</text>
<clipPath id="nofoot"><path d="M-3 -30H45V-2.15H-3Z M20.35 -2.3H23.05V2H20.35Z M-3 -2.3H15V2H-3Z"/></clipPath>
<clipPath id="cA1"><rect x="233.3" y="148.5" width="347" height="98"/></clipPath>
<path d="M280.3 148.5V246.5M330.3 148.5V246.5M380.3 148.5V246.5M430.3 148.5V246.5M480.3 148.5V246.5M530.3 148.5V246.5M233.3 226.2H580.3M233.3 205.9H580.3M233.3 185.6H580.3M233.3 165.3H580.3" stroke="#bcbcbc" stroke-width="0.9" fill="none"/>
<path d="M233.6 246.3 C239.67 246.28 258.1 246.25 270 246.2 C281.9 246.15 295 246.07 305 246 C315 245.93 321.67 245.83 330 245.8 C338.33 245.77 346.67 245.87 355 245.8 C363.33 245.73 374.63 245.47 380 245.35 C385.37 245.23 384.81 245.25 387.22 245.06 C389.63 244.87 392.27 244.75 394.44 244.19 C396.61 243.64 398.53 242.94 400.22 241.74 C401.9 240.54 403.23 239.09 404.55 236.97 C405.87 234.86 407.2 232.16 408.16 229.03 C409.12 225.9 409.68 222.41 410.32 218.2 C410.97 213.99 411.53 209.3 412.06 203.76 C412.59 198.23 413.07 190.28 413.5 184.99 C413.94 179.69 414.27 175.34 414.66 171.99 C415.04 168.65 415.43 165.64 415.81 164.92 C416.2 164.19 416.56 165.28 416.97 167.66 C417.38 170.04 417.74 174.88 418.27 179.21 C418.8 183.55 419.49 189.08 420.14 193.65 C420.79 198.23 421.4 202.8 422.17 206.65 C422.94 210.5 423.73 213.75 424.77 216.76 C425.8 219.77 427.17 222.58 428.38 224.7 C429.58 226.82 430.42 227.95 431.99 229.47 C433.55 230.98 435.6 232.67 437.76 233.8 C439.93 234.93 442.09 235.55 444.98 236.25 C447.87 236.95 451.48 237.5 455.09 237.99 C458.7 238.47 462.55 238.88 466.64 239.14 C470.73 239.41 476.51 239.5 479.64 239.57 C482.77 239.65 484.32 239.65 485.42 239.57 C486.51 239.49 484.99 239.35 486.21 239.09 C487.42 238.83 490.72 238.3 492.71 238.01 C494.7 237.72 496.32 237.47 498.13 237.36 C499.93 237.25 501.56 237.22 503.55 237.36 C505.53 237.5 507.16 237.9 510.05 238.23 C512.94 238.55 517.53 238.99 520.89 239.31 C524.25 239.64 526.59 239.89 530.21 240.18 C533.82 240.47 538.7 240.83 542.56 241.04 C546.43 241.26 549.79 241.3 553.4 241.48 C557.01 241.66 559.76 241.91 564.24 242.13 C568.72 242.34 577.6 242.67 580.28 242.78" fill="none" stroke="#3a3aaa" stroke-width="1.25" stroke-linejoin="round" stroke-linecap="round" clip-path="url(#cA1)" />
<path d="M233.3 148.5V246.5M580.3 148.5V246.5" fill="none" stroke="#626262" stroke-width="1.25" stroke-linecap="square"/>
<path d="M233.3 148.5H580.3M233.3 246.5H580.3" fill="none" stroke="#4a4a4a" stroke-width="1.05" stroke-linecap="square"/>
<path d="M280.3 246.5v3.5M330.3 246.5v3.5M380.3 246.5v3.5M430.3 246.5v3.5M480.3 246.5v3.5M530.3 246.5v3.5M580.3 246.5v3.5" stroke="#1a1a1a" stroke-width="1" fill="none"/>
<text transform="translate(280.3 258.3) rotate(0.03) scale(1.0559 1)" font-size="7.87" text-anchor="middle">200</text>
<text transform="translate(330.3 258.3) rotate(0.03) scale(1.0559 1)" font-size="7.87" text-anchor="middle">400</text>
<text transform="translate(380.3 258.3) rotate(0.03) scale(1.0559 1)" font-size="7.87" text-anchor="middle">600</text>
<text transform="translate(430.3 258.3) rotate(0.03) scale(1.0559 1)" font-size="7.87" text-anchor="middle">800</text>
<text transform="translate(480.3 258.3) rotate(0.03) scale(1.0559 1)" font-size="7.87" text-anchor="middle">1000</text>
<text transform="translate(530.3 258.3) rotate(0.03) scale(1.0559 1)" font-size="7.87" text-anchor="middle">1200</text>
<text transform="translate(580.3 258.3) rotate(0.03) scale(1.0559 1)" font-size="7.87" text-anchor="middle">1400</text>
<path d="M233.3 246.5h-3.5M233.3 226.2h-3.5M233.3 205.9h-3.5M233.3 185.6h-3.5M233.3 165.3h-3.5" stroke="#1a1a1a" stroke-width="1" fill="none"/>
<text transform="translate(226.1 249.67) rotate(0.03) scale(1.0559 1)" font-size="7.87" text-anchor="end">0</text>
<text transform="translate(226.1 229.37) rotate(0.03) scale(1.0559 1)" font-size="7.87" text-anchor="end">20000</text>
<text transform="translate(226.1 209.07) rotate(0.03) scale(1.0559 1)" font-size="7.87" text-anchor="end">40000</text>
<text transform="translate(226.1 188.77) rotate(0.03) scale(1.0559 1)" font-size="7.87" text-anchor="end">60000</text>
<text transform="translate(226.1 168.47) rotate(0.03) scale(1.0559 1)" font-size="7.87" text-anchor="end">80000</text>
<text transform="translate(406.8 143.1) rotate(0.03) scale(1.1077 1)" font-size="9.24" text-anchor="middle">Histogram (PD)</text>
<text transform="translate(406.8 270.95) rotate(0.03) scale(1.0849 1)" font-size="7.87" text-anchor="middle">nPD(pu x 10)</text>
<text transform="translate(193.35 197.9) rotate(-89.97) scale(1.0753 1)" font-size="7.87" text-anchor="middle">Number of Voxels per Bin</text>
<text class="big" transform="translate(516 187) rotate(0.03) scale(0.98 1)" font-size="24">PD</text>
<clipPath id="cA2"><rect x="233.3" y="294.3" width="347" height="98.2"/></clipPath>
<path d="M255.01 294.3V392.5M261.53 294.3V392.5M268.04 294.3V392.5M274.55 294.3V392.5M281.06 294.3V392.5M287.58 294.3V392.5M294.09 294.3V392.5M300.6 294.3V392.5M307.12 294.3V392.5M320.14 294.3V392.5M326.66 294.3V392.5M333.17 294.3V392.5M339.68 294.3V392.5M346.19 294.3V392.5M352.71 294.3V392.5M359.22 294.3V392.5M365.73 294.3V392.5M372.25 294.3V392.5M385.27 294.3V392.5M391.79 294.3V392.5M398.3 294.3V392.5M404.81 294.3V392.5M411.32 294.3V392.5M417.84 294.3V392.5M424.35 294.3V392.5M430.86 294.3V392.5M437.38 294.3V392.5M450.4 294.3V392.5M456.92 294.3V392.5M463.43 294.3V392.5M469.94 294.3V392.5M476.45 294.3V392.5M482.97 294.3V392.5M489.48 294.3V392.5M495.99 294.3V392.5M502.51 294.3V392.5M515.53 294.3V392.5M522.05 294.3V392.5M528.56 294.3V392.5M535.07 294.3V392.5M541.59 294.3V392.5M548.1 294.3V392.5M554.61 294.3V392.5M561.12 294.3V392.5M567.64 294.3V392.5" stroke="#b6acb2" stroke-width="0.55" fill="none"/>
<path d="M233.3 379.14H580.3M233.3 370.18H580.3M233.3 361.22H580.3M233.3 352.26H580.3M233.3 334.34H580.3M233.3 325.38H580.3M233.3 316.42H580.3M233.3 307.46H580.3" stroke="#c6adad" stroke-width="0.55" fill="none"/>
<clipPath id="cA2y"><rect x="258.27" y="294.3" width="6.51" height="120"/></clipPath>
<clipPath id="cA2c"><rect x="274.55" y="294.3" width="10.42" height="120"/></clipPath>
<path d="M248.48 387.76 L253.83 387.33 L257.44 385.31 L259.6 380.97 L261.19 372.31 L262.35 353.54 L263.36 326.1 L264.37 309.49 L266.1 303.72 L267.55 298.66 L268.27 308.77 L269.28 337.65 L270.72 365.09 L272.6 376.64 L274.48 383.14 L276.21 385.31 L278.38 386.03 L282.71 385.6 L287.76 386.75 L293.54 387.04 L300.76 386.03 L307.98 387.04 L316.64 387.33 L326.75 386.61 L339.75 387.18 L380 387.26 L401.67 387.04 L423.35 387.26 L445.02 386.61 L466.7 385.96 L488.37 386.83 L510.05 387.48 L531.72 387.48 L564.24 387.69L564.24 388.1L248.48 388.1Z" fill="#ffff70" opacity="0.75" clip-path="url(#cA2y)" style="mix-blend-mode:multiply"/>
<path d="M248.48 387.76 L253.83 387.33 L257.44 385.31 L259.6 380.97 L261.19 372.31 L262.35 353.54 L263.36 326.1 L264.37 309.49 L266.1 303.72 L267.55 298.66 L268.27 308.77 L269.28 337.65 L270.72 365.09 L272.6 376.64 L274.48 383.14 L276.21 385.31 L278.38 386.03 L282.71 385.6 L287.76 386.75 L293.54 387.04 L300.76 386.03 L307.98 387.04 L316.64 387.33 L326.75 386.61 L339.75 387.18 L380 387.26 L401.67 387.04 L423.35 387.26 L445.02 386.61 L466.7 385.96 L488.37 386.83 L510.05 387.48 L531.72 387.48 L564.24 387.69L564.24 388.1L248.48 388.1Z" fill="#70f0ff" opacity="0.6" clip-path="url(#cA2c)" style="mix-blend-mode:multiply"/>
<clipPath id="cA2c2"><rect x="282.37" y="294.3" width="282.01" height="120"/></clipPath>
<path d="M248.48 388.11 L253.83 387.68 L257.44 385.66 L259.6 381.32 L261.19 372.66 L262.35 353.89 L263.36 326.45 L264.37 309.84 L266.1 304.07 L267.55 299.01 L268.27 309.12 L269.28 338 L270.72 365.44 L272.6 376.99 L274.48 383.49 L276.21 385.66 L278.38 386.38 L282.71 385.95 L287.76 387.1 L293.54 387.39 L300.76 386.38 L307.98 387.39 L316.64 387.68 L326.75 386.96 L339.75 387.53 L380 387.61 L401.67 387.39 L423.35 387.61 L445.02 386.96 L466.7 386.31 L488.37 387.18 L510.05 387.83 L531.72 387.83 L564.24 388.04" fill="none" stroke="#7fe4ff" stroke-width="2.3" opacity="0.5" clip-path="url(#cA2c2)"/>
<path d="M248.48 387.76 L253.83 387.33 L257.44 385.31 L259.6 380.97 L261.19 372.31 L262.35 353.54 L263.36 326.1 L264.37 309.49 L266.1 303.72 L267.55 298.66 L268.27 308.77 L269.28 337.65 L270.72 365.09 L272.6 376.64 L274.48 383.14 L276.21 385.31 L278.38 386.03 L282.71 385.6 L287.76 386.75 L293.54 387.04 L300.76 386.03 L307.98 387.04 L316.64 387.33 L326.75 386.61 L339.75 387.18 L380 387.26 L401.67 387.04 L423.35 387.26 L445.02 386.61 L466.7 385.96 L488.37 386.83 L510.05 387.48 L531.72 387.48 L564.24 387.69" fill="none" stroke="#3644bc" stroke-width="1.3" stroke-linejoin="round" stroke-linecap="round" clip-path="url(#cA2)" />
<path d="M233.3 294.3V392.5M580.3 294.3V392.5" fill="none" stroke="#626262" stroke-width="1.25" stroke-linecap="square"/>
<path d="M233.3 294.3H580.3M233.3 392.5H580.3" fill="none" stroke="#4a4a4a" stroke-width="1.05" stroke-linecap="square"/>
<path d="M248.5 392.5v3.5M313.63 392.5v3.5M378.76 392.5v3.5M443.89 392.5v3.5M509.02 392.5v3.5" stroke="#1a1a1a" stroke-width="1" fill="none"/>
<path d="M255.01 392.5v1.7M261.53 392.5v1.7M268.04 392.5v1.7M274.55 392.5v1.7M281.06 392.5v1.7M287.58 392.5v1.7M294.09 392.5v1.7M300.6 392.5v1.7M307.12 392.5v1.7M320.14 392.5v1.7M326.66 392.5v1.7M333.17 392.5v1.7M339.68 392.5v1.7M346.19 392.5v1.7M352.71 392.5v1.7M359.22 392.5v1.7M365.73 392.5v1.7M372.25 392.5v1.7M385.27 392.5v1.7M391.79 392.5v1.7M398.3 392.5v1.7M404.81 392.5v1.7M411.32 392.5v1.7M417.84 392.5v1.7M424.35 392.5v1.7M430.86 392.5v1.7M437.38 392.5v1.7M450.4 392.5v1.7M456.92 392.5v1.7M463.43 392.5v1.7M469.94 392.5v1.7M476.45 392.5v1.7M482.97 392.5v1.7M489.48 392.5v1.7M495.99 392.5v1.7M502.51 392.5v1.7M515.53 392.5v1.7M522.05 392.5v1.7M528.56 392.5v1.7M535.07 392.5v1.7M541.59 392.5v1.7M548.1 392.5v1.7M554.61 392.5v1.7M561.12 392.5v1.7M567.64 392.5v1.7" stroke="#444" stroke-width="0.7" fill="none"/>
<text transform="translate(248.5 404.3) rotate(0.03) scale(1.0559 1)" font-size="7.87" text-anchor="middle">0</text>
<text transform="translate(313.63 404.3) rotate(0.03) scale(1.0559 1)" font-size="7.87" text-anchor="middle">1000</text>
<text transform="translate(378.76 404.3) rotate(0.03) scale(1.0559 1)" font-size="7.87" text-anchor="middle">2000</text>
<text transform="translate(443.89 404.3) rotate(0.03) scale(1.0559 1)" font-size="7.87" text-anchor="middle">3000</text>
<text transform="translate(509.02 404.3) rotate(0.03) scale(1.0559 1)" font-size="7.87" text-anchor="middle">4000</text>
<path d="M233.3 388.1h-3.5M233.3 343.3h-3.5" stroke="#1a1a1a" stroke-width="1" fill="none"/>
<path d="M233.3 379.14h-1.7M233.3 370.18h-1.7M233.3 361.22h-1.7M233.3 352.26h-1.7M233.3 334.34h-1.7M233.3 325.38h-1.7M233.3 316.42h-1.7M233.3 307.46h-1.7" stroke="#444" stroke-width="0.7" fill="none"/>
<text transform="translate(226.9 391.27) rotate(0.03) scale(1.0559 1)" font-size="7.87" text-anchor="end">0</text>
<text transform="translate(226.9 346.47) rotate(0.03) scale(1.0559 1)" font-size="7.87" text-anchor="end">249619</text>
<text transform="translate(406.1 288.9) rotate(0.03) scale(1.1077 1)" font-size="9.24" text-anchor="middle">Hist(T1) calib_factor = 0.00 &amp; R1w = 200.00</text>
<text transform="translate(406.8 416.95) rotate(0.03) scale(1.0849 1)" font-size="7.87" text-anchor="middle">T1(ms)</text>
<text transform="translate(188.75 343.8) rotate(-89.97) scale(1.0753 1)" font-size="7.87" text-anchor="middle">Number Voxels per Bin</text>
<text class="big" transform="translate(516 331) rotate(0.03) scale(0.995 1)" font-size="24" clip-path="url(#nofoot)">T1</text>
<clipPath id="cA3"><rect x="233.3" y="440.7" width="347" height="97.8"/></clipPath>
<path d="M276.18 440.7V538.5M319.63 440.7V538.5M363.07 440.7V538.5M406.52 440.7V538.5M449.96 440.7V538.5M493.41 440.7V538.5M536.85 440.7V538.5M233.3 513.4H580.3M233.3 488H580.3M233.3 462.6H580.3" stroke="#bcbcbc" stroke-width="0.9" fill="none"/>
<path d="M233.18 538.07 L234.04 508.76 L234.77 520.31 L235.78 497.21 L236.35 502.98 L236.93 456.48 L237.94 481.32 L238.66 505.87 L239.24 514.53 L239.53 505.87 L240.4 527.53 L241.26 533.31 L242.13 518.87 L243 497.93 L243.86 518.87 L244.73 531.86 L245.88 536.19 L247.62 537.93" fill="none" stroke="#cb2e3c" stroke-width="1.15" stroke-linejoin="round" stroke-linecap="round" clip-path="url(#cA3)" />
<path d="M247.62 537.93 C247.93 537.4 248.87 536.68 249.49 534.75 C250.12 532.83 250.82 527.1 251.37 526.38 C251.93 525.65 252.24 530.18 252.82 530.42 C253.39 530.66 254.19 527.7 254.84 527.82 C255.49 527.94 256.04 529.99 256.71 531.14 C257.39 532.3 258.23 533.84 258.88 534.75 C259.53 535.67 260.09 536.29 260.61 536.63 C261.13 536.96 261.35 536.87 262 536.75 C262.65 536.63 263.67 536.47 264.5 535.92 C265.33 535.36 266.24 534.6 267 533.42 C267.76 532.24 268.46 530.57 269.08 528.83 C269.71 527.1 270.19 525.36 270.75 523 C271.31 520.64 271.86 517.44 272.42 514.67 C272.97 511.89 273.53 509.11 274.08 506.33 C274.64 503.56 275.19 500.29 275.75 498 C276.31 495.71 276.79 494.18 277.42 492.58 C278.04 490.99 278.81 489.42 279.5 488.42 C280.19 487.42 280.92 486.97 281.58 486.58 C282.25 486.19 282.88 486.06 283.5 486.08 C284.12 486.11 284.75 486.29 285.33 486.75 C285.92 487.21 286.44 488 287 488.83 C287.56 489.67 288.11 490.57 288.67 491.75 C289.22 492.93 289.78 494.39 290.33 495.92 C290.89 497.44 291.44 499.25 292 500.92 C292.56 502.58 293.11 504.25 293.67 505.92 C294.22 507.58 294.78 509.32 295.33 510.92 C295.89 512.51 296.44 514.04 297 515.5 C297.56 516.96 298.11 518.35 298.67 519.67 C299.22 520.99 299.71 522.17 300.33 523.42 C300.96 524.67 301.72 526.06 302.42 527.17 C303.11 528.28 303.74 529.18 304.5 530.08 C305.26 530.99 306.03 531.82 307 532.58 C307.97 533.35 309.22 534.11 310.33 534.67 C311.44 535.22 312.28 535.56 313.67 535.92 C315.06 536.28 317.28 536.62 318.67 536.83 C320.06 537.04 319.93 537 322 537.17 C324.07 537.34 326.44 537.73 331.08 537.86 C335.73 537.98 341.7 537.9 349.86 537.93 C358.01 537.96 371.36 537.99 380 538.03 C388.64 538.06 396.98 538.17 401.67 538.14 C406.37 538.1 406.01 538.08 408.18 537.81 C410.34 537.54 412.51 537.02 414.68 536.51 C416.85 536.01 419.01 534.74 421.18 534.78 C423.35 534.81 425.52 536.19 427.68 536.73 C429.85 537.27 431.3 537.76 434.19 538.03 C437.08 538.3 420.68 538.29 445.02 538.35 C469.37 538.42 557.73 538.41 580.28 538.42" fill="none" stroke="#cb2e3c" stroke-width="1.25" stroke-linejoin="round" stroke-linecap="round" clip-path="url(#cA3)" />
<path d="M271.83 516.75V519.67M274.5 505.92V510.33M277.42 493.83V502.33M280.17 487.83V498.5M282.83 486.33V497.67M285.58 487.67V498.17M288.25 492.83V501.5M290.92 498.67V506M293.67 505.67V512.67M296.33 512.58V517.67M298.92 519.25V522.67M301.58 525.17V527.33M304.25 528.5V530.17M307 531V532" stroke="#b41414" stroke-width="1.0" fill="none" opacity="0.92"/>
<path d="M233.3 440.7V538.5M580.3 440.7V538.5" fill="none" stroke="#626262" stroke-width="1.25" stroke-linecap="square"/>
<path d="M233.3 440.7H580.3M233.3 538.5H580.3" fill="none" stroke="#4a4a4a" stroke-width="1.05" stroke-linecap="square"/>
<path d="M233.3 538.35H580.3" stroke="#b01818" stroke-width="1.1" opacity="0.3" fill="none"/>
<path d="M276.18 538.5v3.5M319.63 538.5v3.5M363.07 538.5v3.5M406.52 538.5v3.5M449.96 538.5v3.5M493.41 538.5v3.5M536.85 538.5v3.5M580.3 538.5v3.5" stroke="#1a1a1a" stroke-width="1" fill="none"/>
<text transform="translate(276.18 550.3) rotate(0.03) scale(1.0559 1)" font-size="7.87" text-anchor="middle">500</text>
<text transform="translate(319.63 550.3) rotate(0.03) scale(1.0559 1)" font-size="7.87" text-anchor="middle">1000</text>
<text transform="translate(363.07 550.3) rotate(0.03) scale(1.0559 1)" font-size="7.87" text-anchor="middle">1500</text>
<text transform="translate(406.52 550.3) rotate(0.03) scale(1.0559 1)" font-size="7.87" text-anchor="middle">2000</text>
<text transform="translate(449.96 550.3) rotate(0.03) scale(1.0559 1)" font-size="7.87" text-anchor="middle">2500</text>
<text transform="translate(493.41 550.3) rotate(0.03) scale(1.0559 1)" font-size="7.87" text-anchor="middle">3000</text>
<text transform="translate(536.85 550.3) rotate(0.03) scale(1.0559 1)" font-size="7.87" text-anchor="middle">3500</text>
<text transform="translate(580.3 550.3) rotate(0.03) scale(1.0559 1)" font-size="7.87" text-anchor="middle">4000</text>
<path d="M233.3 538.8h-3.5M233.3 513.4h-3.5M233.3 488h-3.5M233.3 462.6h-3.5" stroke="#1a1a1a" stroke-width="1" fill="none"/>
<text transform="translate(226.1 541.97) rotate(0.03) scale(1.0559 1)" font-size="7.87" text-anchor="end">0</text>
<text transform="translate(226.1 516.57) rotate(0.03) scale(1.0559 1)" font-size="7.87" text-anchor="end">10000</text>
<text transform="translate(226.1 491.17) rotate(0.03) scale(1.0559 1)" font-size="7.87" text-anchor="end">20000</text>
<text transform="translate(226.1 465.77) rotate(0.03) scale(1.0559 1)" font-size="7.87" text-anchor="end">30000</text>
<text transform="translate(406.8 435.3) rotate(0.03) scale(1.1077 1)" font-size="9.24" text-anchor="middle">Histogram (T2)</text>
<text transform="translate(406.8 562.95) rotate(0.03) scale(1.0849 1)" font-size="7.87" text-anchor="middle">T2(ms)</text>
<text transform="translate(193.35 490) rotate(-89.97) scale(1.0753 1)" font-size="7.87" text-anchor="middle">Number Voxels per Bin</text>
<text class="big" transform="translate(516 475) rotate(0.03) scale(0.965 1)" font-size="24">T2</text>
<clipPath id="cA4"><rect x="233.3" y="586.5" width="347" height="98.2"/></clipPath>
<path d="M276.18 586.5V684.7M319.63 586.5V684.7M363.07 586.5V684.7M406.52 586.5V684.7M449.96 586.5V684.7M493.41 586.5V684.7M536.85 586.5V684.7M233.3 663.05H580.3M233.3 641.4H580.3M233.3 619.75H580.3M233.3 598.1H580.3" stroke="#bcbcbc" stroke-width="0.9" fill="none"/>
<path d="M233.6 684 C236.33 683.93 238.93 683.62 250 683.6 C261.07 683.58 286.67 683.85 300 683.9 C313.33 683.95 324.56 683.87 330 683.9 C335.44 683.93 330.77 684.17 332.66 684.05 C334.56 683.93 338.46 683.58 341.35 683.18 C344.25 682.79 347.15 682.03 350.04 681.67 C352.94 681.31 355.11 681.13 358.73 681.02 C362.35 680.91 367.42 680.98 371.76 681.02 C376.11 681.06 380.45 681.14 384.8 681.24 C389.14 681.33 394.79 681.55 397.83 681.58 C400.87 681.62 401.6 681.65 403.04 681.45 C404.49 681.25 405.3 681.27 406.52 680.37 C407.74 679.47 408.98 679.46 410.34 676.04 C411.7 672.62 413.41 665.79 414.69 659.85 C415.96 653.9 416.9 647.57 417.99 640.36 C419.08 633.15 420.31 622.36 421.2 616.59 C422.1 610.82 422.81 607.94 423.38 605.76 C423.94 603.58 424.16 603.51 424.59 603.51 C425.03 603.51 425.39 602.87 425.98 605.76 C426.58 608.66 427.33 614.05 428.16 620.9 C428.98 627.75 429.92 639.29 430.94 646.86 C431.95 654.43 432.96 661.27 434.24 666.32 C435.51 671.36 436.96 674.6 438.58 677.12 C440.2 679.64 442.03 680.44 443.97 681.45 C445.91 682.46 447.52 682.73 450.23 683.18 C452.93 683.64 455.92 683.96 460.22 684.18 C464.52 684.4 456.02 684.45 476.03 684.53 C496.05 684.6 562.92 684.6 580.3 684.61" fill="none" stroke="#3a8c46" stroke-width="1.3" stroke-linejoin="round" stroke-linecap="round" clip-path="url(#cA4)" />
<path d="M233.18 684.07 C233.27 679.43 233.54 666.86 233.75 656.2 C233.97 645.54 234.19 629.49 234.48 620.1 C234.77 610.71 235.15 601.09 235.49 599.88 C235.82 598.68 236.16 607.59 236.5 612.88 C236.84 618.18 237.15 625.64 237.51 631.65 C237.87 637.67 238.23 643.69 238.66 648.98 C239.1 654.28 239.58 659.33 240.11 663.42 C240.64 667.51 241.24 671 241.84 673.53 C242.44 676.06 243.04 677.26 243.72 678.58 C244.39 679.91 245.04 680.75 245.88 681.47 C246.73 682.19 247.57 682.58 248.77 682.92 C249.98 683.25 250.22 683.36 253.1 683.49 C255.99 683.63 260.32 683.66 266.1 683.71 C271.88 683.76 279.05 683.76 287.76 683.78 C296.47 683.8 313.27 683.82 318.38 683.83" fill="none" stroke="#cb2e3c" stroke-width="1.3" stroke-linejoin="round" stroke-linecap="round" clip-path="url(#cA4)" />
<path d="M319.63 684.44 L319.63 675.39 L319.89 684.44 L580.3 684.1" fill="none" stroke="#cb2e3c" stroke-width="1.1" stroke-linejoin="round" stroke-linecap="round" clip-path="url(#cA4)" />
<path d="M233.3 586.5V684.7M580.3 586.5V684.7" fill="none" stroke="#626262" stroke-width="1.25" stroke-linecap="square"/>
<path d="M233.3 586.5H580.3M233.3 684.7H580.3" fill="none" stroke="#4a4a4a" stroke-width="1.05" stroke-linecap="square"/>
<path d="M233.3 684.55H580.3" stroke="#b01818" stroke-width="1.1" opacity="0.3" fill="none"/>
<path d="M276.18 684.7v3.5M319.63 684.7v3.5M363.07 684.7v3.5M406.52 684.7v3.5M449.96 684.7v3.5M493.41 684.7v3.5M536.85 684.7v3.5M580.3 684.7v3.5" stroke="#1a1a1a" stroke-width="1" fill="none"/>
<text transform="translate(276.18 696.5) rotate(0.03) scale(1.0559 1)" font-size="7.87" text-anchor="middle">500</text>
<text transform="translate(319.63 696.5) rotate(0.03) scale(1.0559 1)" font-size="7.87" text-anchor="middle">1000</text>
<text transform="translate(363.07 696.5) rotate(0.03) scale(1.0559 1)" font-size="7.87" text-anchor="middle">1500</text>
<text transform="translate(406.52 696.5) rotate(0.03) scale(1.0559 1)" font-size="7.87" text-anchor="middle">2000</text>
<text transform="translate(449.96 696.5) rotate(0.03) scale(1.0559 1)" font-size="7.87" text-anchor="middle">2500</text>
<text transform="translate(493.41 696.5) rotate(0.03) scale(1.0559 1)" font-size="7.87" text-anchor="middle">3000</text>
<text transform="translate(536.85 696.5) rotate(0.03) scale(1.0559 1)" font-size="7.87" text-anchor="middle">3500</text>
<text transform="translate(580.3 696.5) rotate(0.03) scale(1.0559 1)" font-size="7.87" text-anchor="middle">4000</text>
<path d="M233.3 684.7h-3.5M233.3 663.05h-3.5M233.3 641.4h-3.5M233.3 619.75h-3.5M233.3 598.1h-3.5" stroke="#1a1a1a" stroke-width="1" fill="none"/>
<text transform="translate(226.1 687.87) rotate(0.03) scale(1.0559 1)" font-size="7.87" text-anchor="end">0</text>
<text transform="translate(226.1 666.22) rotate(0.03) scale(1.0559 1)" font-size="7.87" text-anchor="end">5000</text>
<text transform="translate(226.1 644.57) rotate(0.03) scale(1.0559 1)" font-size="7.87" text-anchor="end">10000</text>
<text transform="translate(226.1 622.92) rotate(0.03) scale(1.0559 1)" font-size="7.87" text-anchor="end">15000</text>
<text transform="translate(226.1 601.27) rotate(0.03) scale(1.0559 1)" font-size="7.87" text-anchor="end">20000</text>
<text transform="translate(406.8 581.1) rotate(0.03) scale(1.1077 1)" font-size="9.24" text-anchor="middle">Histogram (ADC)</text>
<text transform="translate(406.8 709.15) rotate(0.03) scale(1.0849 1)" font-size="7.87" text-anchor="middle">ADC(mm2/s) or FA(x1000)</text>
<text transform="translate(193.35 636) rotate(-89.97) scale(1.0753 1)" font-size="7.87" text-anchor="middle">Number Voxels per Bin</text>
<text class="big" transform="translate(255.6 617.2) rotate(0.03) scale(1.0 1)" font-size="27.5">FA</text>
<text class="big" transform="translate(516 619) rotate(0.03) scale(0.965 1)" font-size="24">MD</text>
<clipPath id="cB1"><rect x="900.3" y="158.1" width="341.3" height="96.2"/></clipPath>
<path d="M946.4 158.1V254.3M995.6 158.1V254.3M1044.8 158.1V254.3M1094 158.1V254.3M1143.2 158.1V254.3M1192.4 158.1V254.3M900.3 218.9H1241.6M900.3 183.5H1241.6" stroke="#bcbcbc" stroke-width="0.9" fill="none"/>
<path d="M900.5 254.1 C905.42 254.1 923.42 254.04 930 254.1 C936.58 254.16 937.27 254.47 940 254.48 C942.73 254.5 943.95 254.44 946.35 254.19 C948.76 253.95 951.89 253.52 954.44 253.04 C956.99 252.56 959.49 252.08 961.66 251.31 C963.83 250.54 965.75 249.62 967.44 248.42 C969.12 247.22 970.32 246.01 971.77 244.09 C973.21 242.16 974.9 239.27 976.1 236.87 C977.3 234.46 978.03 232.53 978.99 229.65 C979.95 226.76 980.91 223.15 981.88 219.54 C982.84 215.93 983.8 211.84 984.77 207.99 C985.73 204.13 986.69 200.16 987.65 196.43 C988.62 192.7 989.58 188.73 990.54 185.6 C991.5 182.47 992.59 179.51 993.43 177.66 C994.27 175.81 994.99 175.13 995.6 174.48 C996.2 173.83 996.56 173.81 997.04 173.76 C997.52 173.71 997.88 173.67 998.48 174.19 C999.09 174.72 999.81 175.4 1000.65 176.94 C1001.49 178.48 1002.58 181.27 1003.54 183.44 C1004.5 185.6 1005.46 188.06 1006.43 189.94 C1007.39 191.81 1008.35 193.5 1009.31 194.7 C1010.28 195.9 1011.24 196.55 1012.2 197.16 C1013.16 197.76 1014.01 198 1015.09 198.31 C1016.17 198.62 1017.5 198.67 1018.7 199.03 C1019.9 199.39 1020.99 199.71 1022.31 200.48 C1023.63 201.25 1025.2 202.28 1026.64 203.65 C1028.09 205.03 1029.53 206.9 1030.97 208.71 C1032.42 210.51 1033.86 212.56 1035.31 214.48 C1036.75 216.41 1038.19 218.45 1039.64 220.26 C1041.08 222.06 1042.53 223.8 1043.97 225.31 C1045.42 226.83 1046.62 228.03 1048.3 229.36 C1049.99 230.68 1051.99 231.88 1054.08 233.26 C1056.17 234.63 1057.9 236.19 1060.84 237.61 C1063.77 239.02 1068.06 240.68 1071.67 241.72 C1075.29 242.77 1078.83 243.24 1082.51 243.89 C1086.2 244.54 1088.36 244.98 1093.78 245.63 C1099.2 246.28 1106.79 247.07 1115.02 247.79 C1123.26 248.52 1134.17 249.31 1143.2 249.96 C1152.23 250.61 1161.01 251.26 1169.21 251.69 C1177.41 252.13 1184.1 252.31 1192.4 252.56 C1200.71 252.81 1210.86 253.07 1219.06 253.21 C1227.26 253.36 1237.85 253.39 1241.61 253.43" fill="none" stroke="#3a3aaa" stroke-width="1.25" stroke-linejoin="round" stroke-linecap="round" clip-path="url(#cB1)" />
<path d="M900.3 158.1V254.3M1241.6 158.1V254.3" fill="none" stroke="#626262" stroke-width="1.25" stroke-linecap="square"/>
<path d="M900.3 158.1H1241.6M900.3 254.3H1241.6" fill="none" stroke="#4a4a4a" stroke-width="1.05" stroke-linecap="square"/>
<path d="M946.4 254.3v3.5M995.6 254.3v3.5M1044.8 254.3v3.5M1094 254.3v3.5M1143.2 254.3v3.5M1192.4 254.3v3.5M1241.6 254.3v3.5" stroke="#1a1a1a" stroke-width="1" fill="none"/>
<text transform="translate(946.4 266.45) rotate(0.03) scale(1.0559 1)" font-size="7.74" text-anchor="middle">200</text>
<text transform="translate(995.6 266.45) rotate(0.03) scale(1.0559 1)" font-size="7.74" text-anchor="middle">400</text>
<text transform="translate(1044.8 266.45) rotate(0.03) scale(1.0559 1)" font-size="7.74" text-anchor="middle">600</text>
<text transform="translate(1094 266.45) rotate(0.03) scale(1.0559 1)" font-size="7.74" text-anchor="middle">800</text>
<text transform="translate(1143.2 266.45) rotate(0.03) scale(1.0559 1)" font-size="7.74" text-anchor="middle">1000</text>
<text transform="translate(1192.4 266.45) rotate(0.03) scale(1.0559 1)" font-size="7.74" text-anchor="middle">1200</text>
<text transform="translate(1241.6 266.45) rotate(0.03) scale(1.0559 1)" font-size="7.74" text-anchor="middle">1400</text>
<path d="M900.3 254.3h-3.5M900.3 218.9h-3.5M900.3 183.5h-3.5" stroke="#1a1a1a" stroke-width="1" fill="none"/>
<text transform="translate(893.8 257.12) rotate(0.03) scale(1.0559 1)" font-size="7.74" text-anchor="end">0</text>
<text transform="translate(893.8 221.72) rotate(0.03) scale(1.0559 1)" font-size="7.74" text-anchor="end">20000</text>
<text transform="translate(893.8 186.32) rotate(0.03) scale(1.0559 1)" font-size="7.74" text-anchor="end">40000</text>
<text transform="translate(1070.95 152.7) rotate(0.03) scale(1.1077 1)" font-size="9.08" text-anchor="middle">Histogram (PD)</text>
<text transform="translate(1070.95 278.6) rotate(0.03) scale(1.0849 1)" font-size="7.74" text-anchor="middle">nPD(pu x 10)</text>
<text transform="translate(861.35 206.6) rotate(-89.97) scale(1.0753 1)" font-size="7.74" text-anchor="middle">Number of Voxels per Bin</text>
<text class="big" transform="translate(1184 184) rotate(0.03) scale(0.992 1)" font-size="24">PD</text>
<clipPath id="cB2"><rect x="900.3" y="301.6" width="341.3" height="96.4"/></clipPath>
<path d="M921.61 301.6V398M928.01 301.6V398M934.42 301.6V398M940.82 301.6V398M947.23 301.6V398M953.63 301.6V398M960.04 301.6V398M966.44 301.6V398M972.85 301.6V398M985.66 301.6V398M992.06 301.6V398M998.47 301.6V398M1004.87 301.6V398M1011.28 301.6V398M1017.68 301.6V398M1024.09 301.6V398M1030.49 301.6V398M1036.89 301.6V398M1049.7 301.6V398M1056.11 301.6V398M1062.52 301.6V398M1068.92 301.6V398M1075.33 301.6V398M1081.73 301.6V398M1088.13 301.6V398M1094.54 301.6V398M1100.94 301.6V398M1113.76 301.6V398M1120.16 301.6V398M1126.57 301.6V398M1132.97 301.6V398M1139.38 301.6V398M1145.78 301.6V398M1152.18 301.6V398M1158.59 301.6V398M1165 301.6V398M1177.81 301.6V398M1184.21 301.6V398M1190.62 301.6V398M1197.02 301.6V398M1203.42 301.6V398M1209.83 301.6V398M1216.24 301.6V398M1222.64 301.6V398M1229.05 301.6V398" stroke="#b6acb2" stroke-width="0.55" fill="none"/>
<path d="M900.3 385.14H1241.6M900.3 376.38H1241.6M900.3 367.62H1241.6M900.3 358.86H1241.6M900.3 341.34H1241.6M900.3 332.58H1241.6M900.3 323.82H1241.6M900.3 315.06H1241.6" stroke="#c6adad" stroke-width="0.55" fill="none"/>
<clipPath id="cB2y"><rect x="927.37" y="301.6" width="44.84" height="120"/></clipPath>
<clipPath id="cB2c"><rect x="1059.31" y="301.6" width="166.53" height="120"/></clipPath>
<path d="M915.21 393.02 C916.34 392.92 920.02 392.75 921.99 392.44 C923.97 392.13 925.48 391.84 927.05 391.14 C928.61 390.44 930.06 389.46 931.38 388.25 C932.7 387.05 933.91 385.61 934.99 383.92 C936.07 382.24 936.91 380.55 937.88 378.14 C938.84 375.74 939.92 372.49 940.77 369.48 C941.61 366.47 942.21 363.82 942.93 360.09 C943.65 356.36 944.38 351.67 945.1 347.1 C945.82 342.52 946.54 337.47 947.26 332.66 C947.99 327.84 948.71 322.19 949.43 318.22 C950.15 314.25 950.95 310.95 951.6 308.83 C952.25 306.71 952.73 305.92 953.33 305.51 C953.93 305.1 954.53 305.58 955.21 306.38 C955.88 307.17 956.65 308.54 957.37 310.27 C958.09 312.01 958.82 314.49 959.54 316.77 C960.26 319.06 960.98 321.71 961.7 323.99 C962.43 326.28 963.15 328.52 963.87 330.49 C964.59 332.46 965.31 334.32 966.04 335.83 C966.76 337.35 967.36 338.51 968.2 339.59 C969.04 340.67 970.01 341.44 971.09 342.33 C972.17 343.22 973.5 344.43 974.7 344.93 C975.9 345.44 976.99 345.17 978.31 345.36 C979.63 345.56 981.56 345.89 982.64 346.09 C983.73 346.28 983.97 346.57 984.81 346.52 C985.65 346.47 986.73 345.85 987.7 345.8 C988.66 345.75 989.5 345.89 990.58 346.23 C991.67 346.57 992.63 346.98 994.19 347.82 C995.76 348.66 997.92 349.71 1000 351.25 C1002.08 352.79 1004.86 355.42 1006.67 357.08 C1008.47 358.75 1009.44 359.93 1010.83 361.25 C1012.22 362.57 1013.61 363.82 1015 365 C1016.39 366.18 1017.64 367.06 1019.17 368.33 C1020.69 369.61 1022.5 371.42 1024.17 372.67 C1025.83 373.92 1027.64 374.96 1029.17 375.83 C1030.69 376.71 1031.94 377.29 1033.33 377.92 C1034.72 378.54 1035.83 378.96 1037.5 379.58 C1039.17 380.21 1041.25 381.01 1043.33 381.67 C1045.42 382.32 1047.78 382.94 1050 383.5 C1052.22 384.06 1054.44 384.57 1056.67 385 C1058.89 385.43 1061.25 385.78 1063.33 386.08 C1065.42 386.39 1067.22 386.64 1069.17 386.83 C1071.11 387.03 1073.19 387.11 1075 387.25 C1076.81 387.39 1078.75 387.6 1080 387.67 C1081.25 387.73 1077.98 387.42 1082.51 387.63 C1087.05 387.84 1098.19 388.56 1107.22 388.93 C1116.25 389.29 1126.01 389.54 1136.7 389.79 C1147.39 390.05 1160.54 390.26 1171.38 390.44 C1182.22 390.62 1192.69 390.73 1201.72 390.88 C1210.76 391.02 1221.59 391.24 1225.57 391.31L1225.57 393.3L915.21 393.3Z" fill="#fcfc64" opacity="0.95" clip-path="url(#cB2y)" style="mix-blend-mode:multiply"/>
<path d="M915.21 393.02 C916.34 392.92 920.02 392.75 921.99 392.44 C923.97 392.13 925.48 391.84 927.05 391.14 C928.61 390.44 930.06 389.46 931.38 388.25 C932.7 387.05 933.91 385.61 934.99 383.92 C936.07 382.24 936.91 380.55 937.88 378.14 C938.84 375.74 939.92 372.49 940.77 369.48 C941.61 366.47 942.21 363.82 942.93 360.09 C943.65 356.36 944.38 351.67 945.1 347.1 C945.82 342.52 946.54 337.47 947.26 332.66 C947.99 327.84 948.71 322.19 949.43 318.22 C950.15 314.25 950.95 310.95 951.6 308.83 C952.25 306.71 952.73 305.92 953.33 305.51 C953.93 305.1 954.53 305.58 955.21 306.38 C955.88 307.17 956.65 308.54 957.37 310.27 C958.09 312.01 958.82 314.49 959.54 316.77 C960.26 319.06 960.98 321.71 961.7 323.99 C962.43 326.28 963.15 328.52 963.87 330.49 C964.59 332.46 965.31 334.32 966.04 335.83 C966.76 337.35 967.36 338.51 968.2 339.59 C969.04 340.67 970.01 341.44 971.09 342.33 C972.17 343.22 973.5 344.43 974.7 344.93 C975.9 345.44 976.99 345.17 978.31 345.36 C979.63 345.56 981.56 345.89 982.64 346.09 C983.73 346.28 983.97 346.57 984.81 346.52 C985.65 346.47 986.73 345.85 987.7 345.8 C988.66 345.75 989.5 345.89 990.58 346.23 C991.67 346.57 992.63 346.98 994.19 347.82 C995.76 348.66 997.92 349.71 1000 351.25 C1002.08 352.79 1004.86 355.42 1006.67 357.08 C1008.47 358.75 1009.44 359.93 1010.83 361.25 C1012.22 362.57 1013.61 363.82 1015 365 C1016.39 366.18 1017.64 367.06 1019.17 368.33 C1020.69 369.61 1022.5 371.42 1024.17 372.67 C1025.83 373.92 1027.64 374.96 1029.17 375.83 C1030.69 376.71 1031.94 377.29 1033.33 377.92 C1034.72 378.54 1035.83 378.96 1037.5 379.58 C1039.17 380.21 1041.25 381.01 1043.33 381.67 C1045.42 382.32 1047.78 382.94 1050 383.5 C1052.22 384.06 1054.44 384.57 1056.67 385 C1058.89 385.43 1061.25 385.78 1063.33 386.08 C1065.42 386.39 1067.22 386.64 1069.17 386.83 C1071.11 387.03 1073.19 387.11 1075 387.25 C1076.81 387.39 1078.75 387.6 1080 387.67 C1081.25 387.73 1077.98 387.42 1082.51 387.63 C1087.05 387.84 1098.19 388.56 1107.22 388.93 C1116.25 389.29 1126.01 389.54 1136.7 389.79 C1147.39 390.05 1160.54 390.26 1171.38 390.44 C1182.22 390.62 1192.69 390.73 1201.72 390.88 C1210.76 391.02 1221.59 391.24 1225.57 391.31L1225.57 393.3L915.21 393.3Z" fill="#6ef0f6" opacity="0.95" clip-path="url(#cB2c)" style="mix-blend-mode:multiply"/>
<path d="M915.21 393.02 C916.34 392.92 920.02 392.75 921.99 392.44 C923.97 392.13 925.48 391.84 927.05 391.14 C928.61 390.44 930.06 389.46 931.38 388.25 C932.7 387.05 933.91 385.61 934.99 383.92 C936.07 382.24 936.91 380.55 937.88 378.14 C938.84 375.74 939.92 372.49 940.77 369.48 C941.61 366.47 942.21 363.82 942.93 360.09 C943.65 356.36 944.38 351.67 945.1 347.1 C945.82 342.52 946.54 337.47 947.26 332.66 C947.99 327.84 948.71 322.19 949.43 318.22 C950.15 314.25 950.95 310.95 951.6 308.83 C952.25 306.71 952.73 305.92 953.33 305.51 C953.93 305.1 954.53 305.58 955.21 306.38 C955.88 307.17 956.65 308.54 957.37 310.27 C958.09 312.01 958.82 314.49 959.54 316.77 C960.26 319.06 960.98 321.71 961.7 323.99 C962.43 326.28 963.15 328.52 963.87 330.49 C964.59 332.46 965.31 334.32 966.04 335.83 C966.76 337.35 967.36 338.51 968.2 339.59 C969.04 340.67 970.01 341.44 971.09 342.33 C972.17 343.22 973.5 344.43 974.7 344.93 C975.9 345.44 976.99 345.17 978.31 345.36 C979.63 345.56 981.56 345.89 982.64 346.09 C983.73 346.28 983.97 346.57 984.81 346.52 C985.65 346.47 986.73 345.85 987.7 345.8 C988.66 345.75 989.5 345.89 990.58 346.23 C991.67 346.57 992.63 346.98 994.19 347.82 C995.76 348.66 997.92 349.71 1000 351.25 C1002.08 352.79 1004.86 355.42 1006.67 357.08 C1008.47 358.75 1009.44 359.93 1010.83 361.25 C1012.22 362.57 1013.61 363.82 1015 365 C1016.39 366.18 1017.64 367.06 1019.17 368.33 C1020.69 369.61 1022.5 371.42 1024.17 372.67 C1025.83 373.92 1027.64 374.96 1029.17 375.83 C1030.69 376.71 1031.94 377.29 1033.33 377.92 C1034.72 378.54 1035.83 378.96 1037.5 379.58 C1039.17 380.21 1041.25 381.01 1043.33 381.67 C1045.42 382.32 1047.78 382.94 1050 383.5 C1052.22 384.06 1054.44 384.57 1056.67 385 C1058.89 385.43 1061.25 385.78 1063.33 386.08 C1065.42 386.39 1067.22 386.64 1069.17 386.83 C1071.11 387.03 1073.19 387.11 1075 387.25 C1076.81 387.39 1078.75 387.6 1080 387.67 C1081.25 387.73 1077.98 387.42 1082.51 387.63 C1087.05 387.84 1098.19 388.56 1107.22 388.93 C1116.25 389.29 1126.01 389.54 1136.7 389.79 C1147.39 390.05 1160.54 390.26 1171.38 390.44 C1182.22 390.62 1192.69 390.73 1201.72 390.88 C1210.76 391.02 1221.59 391.24 1225.57 391.31" fill="none" stroke="#3535a8" stroke-width="1.35" stroke-linejoin="round" stroke-linecap="round" clip-path="url(#cB2)" />
<path d="M900.3 301.6V398M1241.6 301.6V398" fill="none" stroke="#626262" stroke-width="1.25" stroke-linecap="square"/>
<path d="M900.3 301.6H1241.6M900.3 398H1241.6" fill="none" stroke="#4a4a4a" stroke-width="1.05" stroke-linecap="square"/>
<path d="M915.2 398v3.5M979.25 398v3.5M1043.3 398v3.5M1107.35 398v3.5M1171.4 398v3.5" stroke="#1a1a1a" stroke-width="1" fill="none"/>
<path d="M921.61 398v1.7M928.01 398v1.7M934.42 398v1.7M940.82 398v1.7M947.23 398v1.7M953.63 398v1.7M960.04 398v1.7M966.44 398v1.7M972.85 398v1.7M985.66 398v1.7M992.06 398v1.7M998.47 398v1.7M1004.87 398v1.7M1011.28 398v1.7M1017.68 398v1.7M1024.09 398v1.7M1030.49 398v1.7M1036.89 398v1.7M1049.7 398v1.7M1056.11 398v1.7M1062.52 398v1.7M1068.92 398v1.7M1075.33 398v1.7M1081.73 398v1.7M1088.13 398v1.7M1094.54 398v1.7M1100.94 398v1.7M1113.76 398v1.7M1120.16 398v1.7M1126.57 398v1.7M1132.97 398v1.7M1139.38 398v1.7M1145.78 398v1.7M1152.18 398v1.7M1158.59 398v1.7M1165 398v1.7M1177.81 398v1.7M1184.21 398v1.7M1190.62 398v1.7M1197.02 398v1.7M1203.42 398v1.7M1209.83 398v1.7M1216.24 398v1.7M1222.64 398v1.7M1229.05 398v1.7" stroke="#444" stroke-width="0.7" fill="none"/>
<text transform="translate(915.2 410.15) rotate(0.03) scale(1.0559 1)" font-size="7.74" text-anchor="middle">0</text>
<text transform="translate(979.25 410.15) rotate(0.03) scale(1.0559 1)" font-size="7.74" text-anchor="middle">1000</text>
<text transform="translate(1043.3 410.15) rotate(0.03) scale(1.0559 1)" font-size="7.74" text-anchor="middle">2000</text>
<text transform="translate(1107.35 410.15) rotate(0.03) scale(1.0559 1)" font-size="7.74" text-anchor="middle">3000</text>
<text transform="translate(1171.4 410.15) rotate(0.03) scale(1.0559 1)" font-size="7.74" text-anchor="middle">4000</text>
<path d="M900.3 393.9h-3.5M900.3 350.1h-3.5" stroke="#1a1a1a" stroke-width="1" fill="none"/>
<path d="M900.3 385.14h-1.7M900.3 376.38h-1.7M900.3 367.62h-1.7M900.3 358.86h-1.7M900.3 341.34h-1.7M900.3 332.58h-1.7M900.3 323.82h-1.7M900.3 315.06h-1.7" stroke="#444" stroke-width="0.7" fill="none"/>
<text transform="translate(893.8 396.72) rotate(0.03) scale(1.0559 1)" font-size="7.74" text-anchor="end">0</text>
<text transform="translate(893.8 352.92) rotate(0.03) scale(1.0559 1)" font-size="7.74" text-anchor="end">119262</text>
<text transform="translate(1070.25 296.2) rotate(0.03) scale(1.1077 1)" font-size="9.08" text-anchor="middle">Hist(T1) calib_factor = 0.00 &amp; R1w = 200.00</text>
<text transform="translate(1070.95 422.3) rotate(0.03) scale(1.0849 1)" font-size="7.74" text-anchor="middle">T1(ms)</text>
<text transform="translate(856.15 350.2) rotate(-89.97) scale(1.0753 1)" font-size="7.74" text-anchor="middle">Number Voxels per Bin</text>
<text class="big" transform="translate(1184 328) rotate(0.03) scale(0.985 1)" font-size="24" clip-path="url(#nofoot)">T1</text>
<clipPath id="cB3"><rect x="900.3" y="445.8" width="341.3" height="95.8"/></clipPath>
<path d="M942.7 445.8V541.6M985.4 445.8V541.6M1028.1 445.8V541.6M1070.8 445.8V541.6M1113.5 445.8V541.6M1156.2 445.8V541.6M1198.9 445.8V541.6M900.3 518H1241.6M900.3 494.4H1241.6M900.3 470.8H1241.6M900.3 447.2H1241.6" stroke="#bcbcbc" stroke-width="0.9" fill="none"/>
<path d="M900.04 541.35 L901.78 537.31 L903.22 528.64 L904.38 506.98 L905.24 482.43 L906.11 462.22 L906.54 460.48 L907.26 470.88 L908.13 489.65 L909 511.31 L909.86 524.31 L911.02 532.25 L912.61 535.86 L914.77 537.88 L919.1 539.33 L924.88 540.19 L933.55 540.77 L942.5 541.06 L976 541.28 L1068 541.1 L1072 540.3 L1080 540.2 L1090 540.6 L1100 541.1 L1241.6 541.2L1241.6 541.4L900.04 541.4Z" fill="#f80505" stroke="#d40c0c" stroke-width="0.9" stroke-linejoin="round" clip-path="url(#cB3)"/>
<path d="M900.3 445.8V541.6M1241.6 445.8V541.6" fill="none" stroke="#626262" stroke-width="1.25" stroke-linecap="square"/>
<path d="M900.3 445.8H1241.6M900.3 541.6H1241.6" fill="none" stroke="#4a4a4a" stroke-width="1.05" stroke-linecap="square"/>
<path d="M900.3 541.45H1241.6" stroke="#b01818" stroke-width="1.1" opacity="0.3" fill="none"/>
<path d="M942.7 541.6v3.5M985.4 541.6v3.5M1028.1 541.6v3.5M1070.8 541.6v3.5M1113.5 541.6v3.5M1156.2 541.6v3.5M1198.9 541.6v3.5M1241.6 541.6v3.5" stroke="#1a1a1a" stroke-width="1" fill="none"/>
<text transform="translate(942.7 553.75) rotate(0.03) scale(1.0559 1)" font-size="7.74" text-anchor="middle">500</text>
<text transform="translate(985.4 553.75) rotate(0.03) scale(1.0559 1)" font-size="7.74" text-anchor="middle">1000</text>
<text transform="translate(1028.1 553.75) rotate(0.03) scale(1.0559 1)" font-size="7.74" text-anchor="middle">1500</text>
<text transform="translate(1070.8 553.75) rotate(0.03) scale(1.0559 1)" font-size="7.74" text-anchor="middle">2000</text>
<text transform="translate(1113.5 553.75) rotate(0.03) scale(1.0559 1)" font-size="7.74" text-anchor="middle">2500</text>
<text transform="translate(1156.2 553.75) rotate(0.03) scale(1.0559 1)" font-size="7.74" text-anchor="middle">3000</text>
<text transform="translate(1198.9 553.75) rotate(0.03) scale(1.0559 1)" font-size="7.74" text-anchor="middle">3500</text>
<text transform="translate(1241.6 553.75) rotate(0.03) scale(1.0559 1)" font-size="7.74" text-anchor="middle">4000</text>
<path d="M900.3 541.6h-3.5M900.3 518h-3.5M900.3 494.4h-3.5M900.3 470.8h-3.5M900.3 447.2h-3.5" stroke="#1a1a1a" stroke-width="1" fill="none"/>
<text transform="translate(893.8 544.42) rotate(0.03) scale(1.0559 1)" font-size="7.74" text-anchor="end">0</text>
<text transform="translate(893.8 520.82) rotate(0.03) scale(1.0559 1)" font-size="7.74" text-anchor="end">25000</text>
<text transform="translate(893.8 497.22) rotate(0.03) scale(1.0559 1)" font-size="7.74" text-anchor="end">50000</text>
<text transform="translate(893.8 473.62) rotate(0.03) scale(1.0559 1)" font-size="7.74" text-anchor="end">75000</text>
<text transform="translate(893.8 450.02) rotate(0.03) scale(1.0559 1)" font-size="7.74" text-anchor="end">100000</text>
<text transform="translate(1070.95 440.4) rotate(0.03) scale(1.1077 1)" font-size="9.08" text-anchor="middle">Histogram (T2)</text>
<text transform="translate(1070.95 565.9) rotate(0.03) scale(1.0849 1)" font-size="7.74" text-anchor="middle">T2(ms)</text>
<text transform="translate(856.15 494.1) rotate(-89.97) scale(1.0753 1)" font-size="7.74" text-anchor="middle">Number Voxels per Bin</text>
<text class="big" transform="translate(1184 472) rotate(0.03) scale(0.992 1)" font-size="24">T2</text>
<clipPath id="cB4"><rect x="900.3" y="588.9" width="341.3" height="96.6"/></clipPath>
<path d="M942.7 588.9V685.5M985.4 588.9V685.5M1028.1 588.9V685.5M1070.8 588.9V685.5M1113.5 588.9V685.5M1156.2 588.9V685.5M1198.9 588.9V685.5M900.3 657.6H1241.6M900.3 629.7H1241.6M900.3 601.8H1241.6" stroke="#bcbcbc" stroke-width="0.9" fill="none"/>
<path d="M900.04 684.77 C900.57 684.48 902.21 683.74 903.22 683.04 C904.23 682.34 905.15 681.72 906.11 680.58 C907.07 679.45 908.03 677.77 909 676.25 C909.96 674.74 910.92 672.86 911.88 671.49 C912.85 670.12 913.81 668.91 914.77 668.02 C915.74 667.13 916.58 666.58 917.66 666.14 C918.74 665.71 919.83 665.59 921.27 665.42 C922.71 665.25 924.52 665.25 926.32 665.13 C928.13 665.01 929.94 664.82 932.1 664.7 C934.27 664.58 936.91 664.41 939.32 664.41 C941.73 664.41 944.5 664.6 946.54 664.7 C948.59 664.8 950.27 665.11 951.6 664.99 C952.92 664.87 953.64 664.63 954.48 663.98 C955.33 663.33 955.93 662.53 956.65 661.09 C957.37 659.65 958.09 657.96 958.82 655.31 C959.54 652.67 960.26 649.06 960.98 645.21 C961.7 641.35 962.43 636.3 963.15 632.21 C963.87 628.12 964.59 624.15 965.31 620.66 C966.04 617.17 966.76 613.73 967.48 611.27 C968.2 608.82 969 607.06 969.65 605.93 C970.3 604.8 970.78 604.44 971.38 604.48 C971.98 604.53 972.58 605.21 973.26 606.22 C973.93 607.23 974.58 608.62 975.42 610.55 C976.26 612.47 977.35 615.36 978.31 617.77 C979.27 620.18 980.24 622.58 981.2 624.99 C982.16 627.4 983 629.68 984.09 632.21 C985.17 634.74 986.49 637.62 987.7 640.15 C988.9 642.68 989.98 644.97 991.31 647.37 C992.63 649.78 994.19 652.43 995.64 654.59 C997.08 656.76 998.53 658.68 999.97 660.37 C1001.42 662.05 1002.62 663.26 1004.3 664.7 C1005.99 666.14 1008.13 667.83 1010.08 669.03 C1012.03 670.24 1013.03 670.97 1016 671.92 C1018.97 672.87 1023.3 673.89 1027.92 674.76 C1032.55 675.63 1038.4 676.42 1043.74 677.14 C1049.09 677.87 1055.53 678.62 1060 679.09 C1064.47 679.56 1065.76 679.64 1070.59 679.96 C1075.43 680.29 1084.14 680.68 1089.01 681.04 C1093.89 681.41 1095.81 681.84 1099.85 682.13 C1103.9 682.42 1107.87 682.49 1113.29 682.78 C1118.71 683.07 1125.21 683.57 1132.36 683.86 C1139.52 684.15 1148.26 684.37 1156.21 684.51 C1164.15 684.66 1165.82 684.67 1180.05 684.73 C1194.28 684.78 1231.35 684.82 1241.61 684.84" fill="none" stroke="#3a8c46" stroke-width="1.25" stroke-linejoin="round" stroke-linecap="round" clip-path="url(#cB4)" />
<path d="M900.04 685.06 C900.21 683.47 900.72 680.01 901.05 675.53 C901.39 671.05 901.7 663.98 902.06 658.2 C902.43 652.43 902.79 646.17 903.22 640.87 C903.65 635.58 904.13 630.28 904.66 626.43 C905.19 622.58 905.8 619.77 906.4 617.77 C907 615.77 907.67 615.1 908.27 614.45 C908.88 613.8 909.45 613.8 910.01 613.87 C910.56 613.94 911.04 614.11 911.6 614.88 C912.15 615.65 912.68 616.69 913.33 618.49 C913.98 620.3 914.77 623.06 915.49 625.71 C916.22 628.36 916.94 631.49 917.66 634.38 C918.38 637.26 919.1 640.27 919.83 643.04 C920.55 645.81 921.15 648.21 921.99 650.98 C922.84 653.75 923.92 657.12 924.88 659.65 C925.84 662.17 926.69 664.1 927.77 666.14 C928.85 668.19 930.18 670.31 931.38 671.92 C932.58 673.53 933.67 674.62 934.99 675.82 C936.31 677.02 937.64 678.18 939.32 679.14 C941.01 680.1 942.93 680.92 945.1 681.6 C947.26 682.27 949.91 682.8 952.32 683.18 C954.72 683.57 956.89 683.67 959.54 683.91 C962.19 684.15 965.31 684.46 968.2 684.63 C971.09 684.8 974.22 684.86 976.87 684.92 C979.51 684.98 982.88 684.98 984.09 684.99" fill="none" stroke="#cb2e3c" stroke-width="1.25" stroke-linejoin="round" stroke-linecap="round" clip-path="url(#cB4)" />
<path d="M985.4 685.36 L985.4 677.97 L985.66 685.36 L1241.6 684.7" fill="none" stroke="#cb2e3c" stroke-width="1.1" stroke-linejoin="round" stroke-linecap="round" clip-path="url(#cB4)" />
<path d="M900.3 588.9V685.5M1241.6 588.9V685.5" fill="none" stroke="#626262" stroke-width="1.25" stroke-linecap="square"/>
<path d="M900.3 588.9H1241.6M900.3 685.5H1241.6" fill="none" stroke="#4a4a4a" stroke-width="1.05" stroke-linecap="square"/>
<path d="M900.3 685.35H1241.6" stroke="#b01818" stroke-width="1.1" opacity="0.3" fill="none"/>
<path d="M942.7 685.5v3.5M985.4 685.5v3.5M1028.1 685.5v3.5M1070.8 685.5v3.5M1113.5 685.5v3.5M1156.2 685.5v3.5M1198.9 685.5v3.5M1241.6 685.5v3.5" stroke="#1a1a1a" stroke-width="1" fill="none"/>
<text transform="translate(942.7 697.05) rotate(0.03) scale(1.0559 1)" font-size="7.74" text-anchor="middle">500</text>
<text transform="translate(985.4 697.05) rotate(0.03) scale(1.0559 1)" font-size="7.74" text-anchor="middle">1000</text>
<text transform="translate(1028.1 697.05) rotate(0.03) scale(1.0559 1)" font-size="7.74" text-anchor="middle">1500</text>
<text transform="translate(1070.8 697.05) rotate(0.03) scale(1.0559 1)" font-size="7.74" text-anchor="middle">2000</text>
<text transform="translate(1113.5 697.05) rotate(0.03) scale(1.0559 1)" font-size="7.74" text-anchor="middle">2500</text>
<text transform="translate(1156.2 697.05) rotate(0.03) scale(1.0559 1)" font-size="7.74" text-anchor="middle">3000</text>
<text transform="translate(1198.9 697.05) rotate(0.03) scale(1.0559 1)" font-size="7.74" text-anchor="middle">3500</text>
<text transform="translate(1241.6 697.05) rotate(0.03) scale(1.0559 1)" font-size="7.74" text-anchor="middle">4000</text>
<path d="M900.3 685.5h-3.5M900.3 657.6h-3.5M900.3 629.7h-3.5M900.3 601.8h-3.5" stroke="#1a1a1a" stroke-width="1" fill="none"/>
<text transform="translate(893.8 688.32) rotate(0.03) scale(1.0559 1)" font-size="7.74" text-anchor="end">0</text>
<text transform="translate(893.8 660.42) rotate(0.03) scale(1.0559 1)" font-size="7.74" text-anchor="end">20000</text>
<text transform="translate(893.8 632.52) rotate(0.03) scale(1.0559 1)" font-size="7.74" text-anchor="end">40000</text>
<text transform="translate(893.8 604.62) rotate(0.03) scale(1.0559 1)" font-size="7.74" text-anchor="end">60000</text>
<text transform="translate(1070.95 583.5) rotate(0.03) scale(1.1077 1)" font-size="9.08" text-anchor="middle">Histogram (ADC)</text>
<text transform="translate(1070.95 709.8) rotate(0.03) scale(1.0849 1)" font-size="7.74" text-anchor="middle">ADC(mm2/s) or FA(x1000)</text>
<text transform="translate(861.15 637.6) rotate(-89.97) scale(1.0753 1)" font-size="7.74" text-anchor="middle">Number Voxels per Bin</text>
<text class="big" transform="translate(915 617.5) rotate(0.03) scale(1.0 1)" font-size="27.5">FA</text>
<text class="big" transform="translate(1184 617) rotate(0.03) scale(0.992 1)" font-size="24">MD</text>
<text class="big" transform="translate(29.3 41.6) rotate(0.03) scale(0.996 1)" font-size="27">A) Phantom</text>
<text class="big" transform="translate(654 41.3) rotate(0.03) scale(1.009 1)" font-size="26.75">B) Brain (M.37)</text>
</svg>
</body>
</html>
